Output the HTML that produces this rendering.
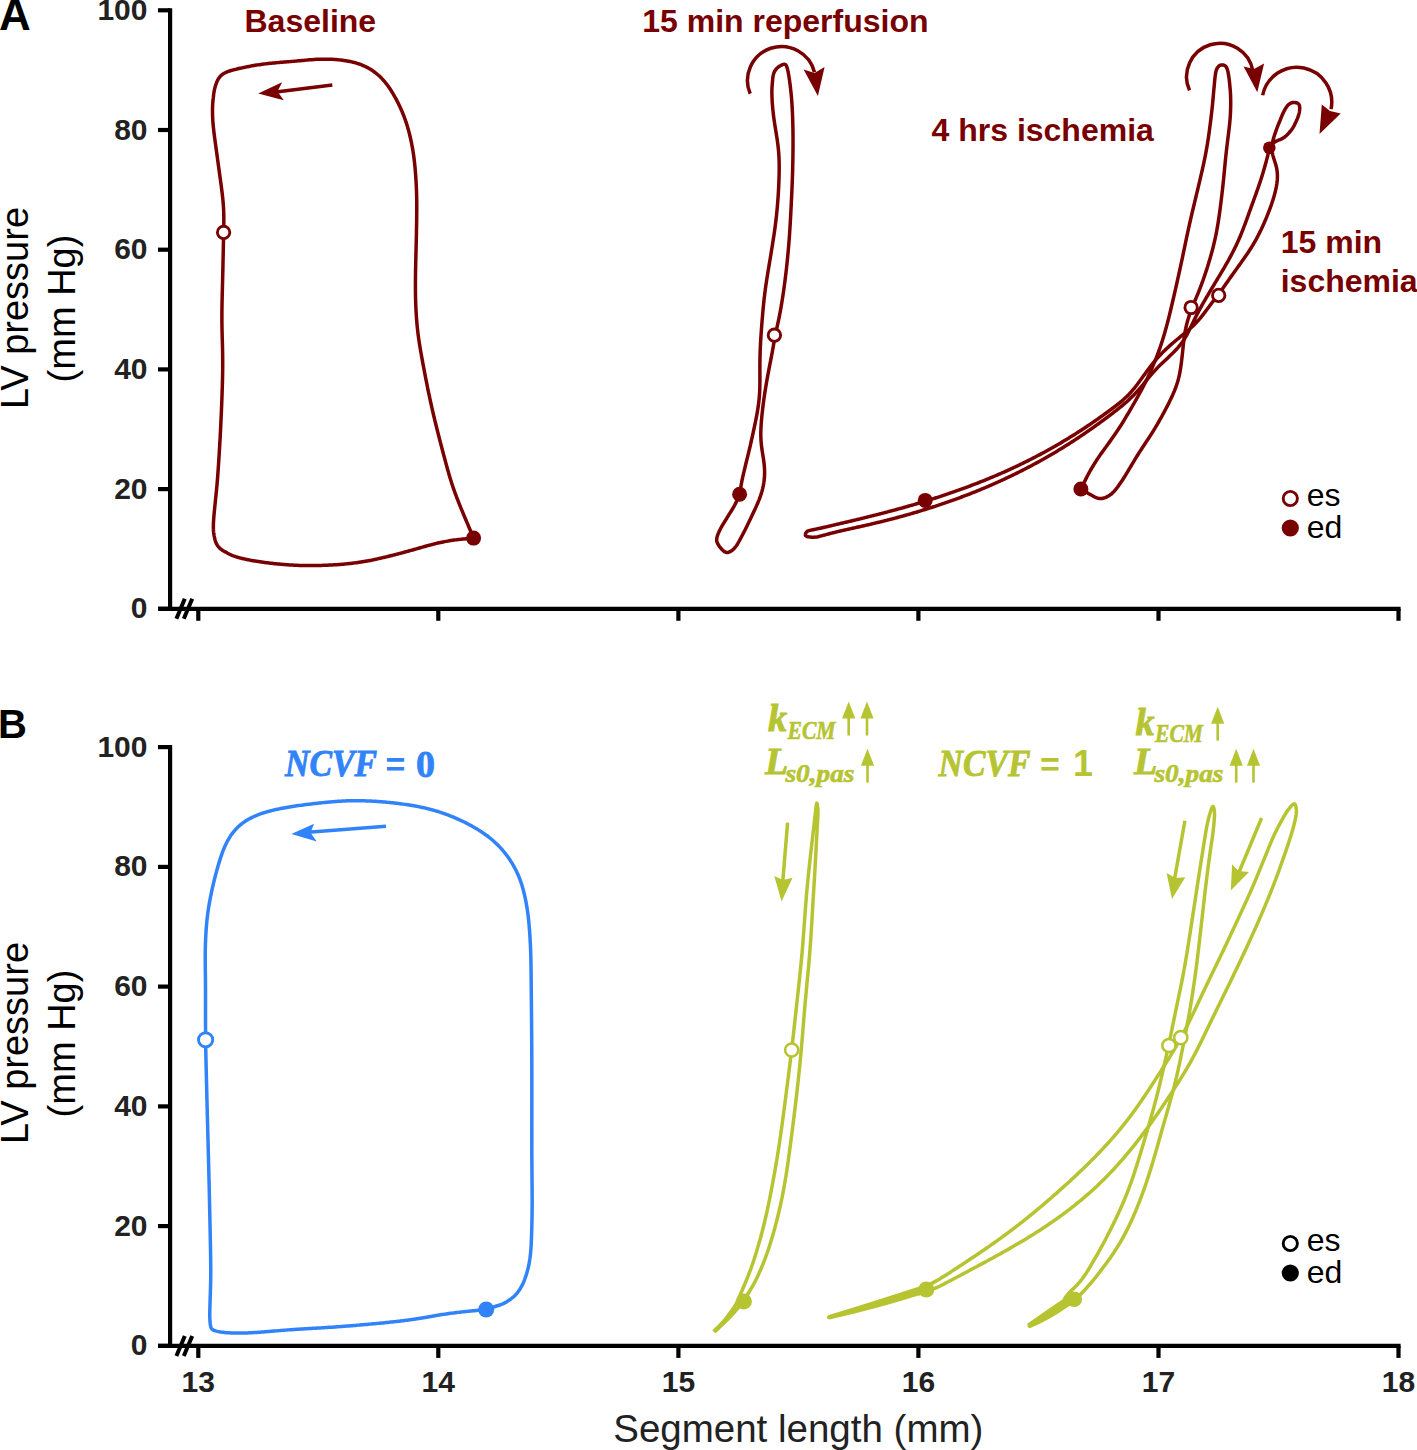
<!DOCTYPE html>
<html><head><meta charset="utf-8"><style>
html,body{margin:0;padding:0;background:#fff;}
svg{display:block;}
text{font-family:"Liberation Sans",sans-serif;}
.tl{font-size:30px;font-weight:bold;fill:#222;}
.yl{font-size:38px;fill:#000;}
.xl{font-size:38.5px;fill:#222;}
.pl{font-size:40px;font-weight:bold;fill:#000;}
.lab{font-size:32px;font-weight:bold;}
.leg{font-size:32px;fill:#000;}
.ncvf{font-family:"Liberation Serif",serif;font-size:38px;font-weight:bold;font-style:italic;}
.eq{font-family:"Liberation Serif",serif;font-size:36px;font-weight:bold;}
.zero{font-family:"Liberation Serif",serif;font-size:38px;font-weight:bold;}
.eq2{font-size:34px;font-weight:bold;}
.one{font-size:36px;font-weight:bold;}
.kk{font-family:"Liberation Serif",serif;font-size:38px;font-weight:bold;font-style:italic;}
.sub{font-family:"Liberation Serif",serif;font-size:25px;font-weight:bold;font-style:italic;}
</style></head><body>
<svg width="1417" height="1450" viewBox="0 0 1417 1450">
<line x1="170.1" y1="8.2" x2="170.1" y2="610.9" stroke="#000" stroke-width="4.2"/>
<line x1="158" y1="608.8" x2="170.1" y2="608.8" stroke="#000" stroke-width="4.2"/>
<text x="147.5" y="618.3" class="tl" text-anchor="end">0</text>
<line x1="158" y1="489.1" x2="170.1" y2="489.1" stroke="#000" stroke-width="4.2"/>
<text x="147.5" y="498.6" class="tl" text-anchor="end">20</text>
<line x1="158" y1="369.4" x2="170.1" y2="369.4" stroke="#000" stroke-width="4.2"/>
<text x="147.5" y="378.9" class="tl" text-anchor="end">40</text>
<line x1="158" y1="249.7" x2="170.1" y2="249.7" stroke="#000" stroke-width="4.2"/>
<text x="147.5" y="259.2" class="tl" text-anchor="end">60</text>
<line x1="158" y1="130.0" x2="170.1" y2="130.0" stroke="#000" stroke-width="4.2"/>
<text x="147.5" y="139.5" class="tl" text-anchor="end">80</text>
<line x1="158" y1="10.3" x2="170.1" y2="10.3" stroke="#000" stroke-width="4.2"/>
<text x="147.5" y="19.8" class="tl" text-anchor="end">100</text>
<line x1="158" y1="608.8" x2="1400.6" y2="608.8" stroke="#000" stroke-width="4.2"/>
<line x1="198.3" y1="608.8" x2="198.3" y2="620.8" stroke="#000" stroke-width="4.2"/>
<line x1="438.3" y1="608.8" x2="438.3" y2="620.8" stroke="#000" stroke-width="4.2"/>
<line x1="678.4" y1="608.8" x2="678.4" y2="620.8" stroke="#000" stroke-width="4.2"/>
<line x1="918.4" y1="608.8" x2="918.4" y2="620.8" stroke="#000" stroke-width="4.2"/>
<line x1="1158.5" y1="608.8" x2="1158.5" y2="620.8" stroke="#000" stroke-width="4.2"/>
<line x1="1398.5" y1="608.8" x2="1398.5" y2="620.8" stroke="#000" stroke-width="4.2"/>
<line x1="184.8" y1="598.8" x2="176.4" y2="618.8" stroke="#000" stroke-width="4"/>
<line x1="192.2" y1="598.8" x2="183.8" y2="618.8" stroke="#000" stroke-width="4"/>
<text class="yl" transform="translate(27.8 308.0) rotate(-90)" text-anchor="middle">LV pressure</text>
<text class="yl" transform="translate(74.8 308.5) rotate(-90)" text-anchor="middle">(mm Hg)</text>
<line x1="170.1" y1="745.0" x2="170.1" y2="1348.0" stroke="#000" stroke-width="4.2"/>
<line x1="158" y1="1345.9" x2="170.1" y2="1345.9" stroke="#000" stroke-width="4.2"/>
<text x="147.5" y="1355.4" class="tl" text-anchor="end">0</text>
<line x1="158" y1="1226.1" x2="170.1" y2="1226.1" stroke="#000" stroke-width="4.2"/>
<text x="147.5" y="1235.6" class="tl" text-anchor="end">20</text>
<line x1="158" y1="1106.4" x2="170.1" y2="1106.4" stroke="#000" stroke-width="4.2"/>
<text x="147.5" y="1115.9" class="tl" text-anchor="end">40</text>
<line x1="158" y1="986.6" x2="170.1" y2="986.6" stroke="#000" stroke-width="4.2"/>
<text x="147.5" y="996.1" class="tl" text-anchor="end">60</text>
<line x1="158" y1="866.9" x2="170.1" y2="866.9" stroke="#000" stroke-width="4.2"/>
<text x="147.5" y="876.4" class="tl" text-anchor="end">80</text>
<line x1="158" y1="747.1" x2="170.1" y2="747.1" stroke="#000" stroke-width="4.2"/>
<text x="147.5" y="756.6" class="tl" text-anchor="end">100</text>
<line x1="158" y1="1345.9" x2="1400.6" y2="1345.9" stroke="#000" stroke-width="4.2"/>
<line x1="198.3" y1="1345.9" x2="198.3" y2="1357.9" stroke="#000" stroke-width="4.2"/>
<line x1="438.3" y1="1345.9" x2="438.3" y2="1357.9" stroke="#000" stroke-width="4.2"/>
<line x1="678.4" y1="1345.9" x2="678.4" y2="1357.9" stroke="#000" stroke-width="4.2"/>
<line x1="918.4" y1="1345.9" x2="918.4" y2="1357.9" stroke="#000" stroke-width="4.2"/>
<line x1="1158.5" y1="1345.9" x2="1158.5" y2="1357.9" stroke="#000" stroke-width="4.2"/>
<line x1="1398.5" y1="1345.9" x2="1398.5" y2="1357.9" stroke="#000" stroke-width="4.2"/>
<line x1="184.8" y1="1335.9" x2="176.4" y2="1355.9" stroke="#000" stroke-width="4"/>
<line x1="192.2" y1="1335.9" x2="183.8" y2="1355.9" stroke="#000" stroke-width="4"/>
<text class="yl" transform="translate(27.8 1043.0) rotate(-90)" text-anchor="middle">LV pressure</text>
<text class="yl" transform="translate(74.8 1043.5) rotate(-90)" text-anchor="middle">(mm Hg)</text>
<text x="198.3" y="1392" class="tl" text-anchor="middle">13</text>
<text x="438.3" y="1392" class="tl" text-anchor="middle">14</text>
<text x="678.4" y="1392" class="tl" text-anchor="middle">15</text>
<text x="918.4" y="1392" class="tl" text-anchor="middle">16</text>
<text x="1158.5" y="1392" class="tl" text-anchor="middle">17</text>
<text x="1398.5" y="1392" class="tl" text-anchor="middle">18</text>
<text x="798.3" y="1441.6" class="xl" text-anchor="middle">Segment length (mm)</text>
<text x="-1" y="29.7" class="pl" style="font-size:44px">A</text>
<text x="-2" y="738.2" class="pl">B</text>
<path d="M473.60 538.10 L473.01 536.70 L472.41 535.27 L471.80 533.84 L471.18 532.39 L470.56 530.92 L469.93 529.45 L469.29 527.96 L468.65 526.46 L468.01 524.94 L467.36 523.41 L466.70 521.86 L466.04 520.31 L465.40 518.78 L464.76 517.27 L464.15 515.79 L463.55 514.36 L462.99 513.02 L462.44 511.69 L461.90 510.38 L461.36 509.07 L460.84 507.80 L460.33 506.56 L459.84 505.35 L459.37 504.18 L458.91 503.03 L458.29 501.47 L457.72 500.01 L457.18 498.62 L456.67 497.29 L456.18 495.99 L455.70 494.71 L455.23 493.44 L454.75 492.13 L454.28 490.79 L453.78 489.38 L453.26 487.89 L452.72 486.29 L452.34 485.15 L451.96 483.98 L451.57 482.79 L451.19 481.56 L450.79 480.29 L450.39 479.00 L449.99 477.67 L449.58 476.30 L449.17 474.90 L448.76 473.47 L448.34 472.00 L447.91 470.50 L447.49 468.98 L447.05 467.42 L446.62 465.84 L446.18 464.25 L445.75 462.64 L445.31 461.03 L444.88 459.42 L444.45 457.81 L444.03 456.21 L443.60 454.62 L443.19 453.05 L442.78 451.51 L442.38 449.98 L441.99 448.48 L441.61 447.05 L441.24 445.64 L440.87 444.23 L440.51 442.82 L440.14 441.40 L439.77 439.99 L439.41 438.57 L439.04 437.15 L438.68 435.71 L438.31 434.27 L437.94 432.83 L437.57 431.37 L437.21 429.92 L436.84 428.46 L436.47 426.99 L436.11 425.52 L435.74 424.05 L435.38 422.57 L435.02 421.10 L434.66 419.62 L434.31 418.15 L433.96 416.69 L433.61 415.22 L433.27 413.75 L432.92 412.28 L432.58 410.82 L432.25 409.36 L431.92 407.90 L431.59 406.44 L431.26 404.97 L430.93 403.49 L430.60 402.00 L430.27 400.50 L429.95 398.99 L429.62 397.47 L429.30 395.95 L428.98 394.43 L428.65 392.89 L428.34 391.36 L428.02 389.82 L427.71 388.29 L427.40 386.75 L427.09 385.22 L426.79 383.70 L426.49 382.19 L426.19 380.69 L425.90 379.20 L425.61 377.72 L425.32 376.25 L425.04 374.79 L424.77 373.35 L424.50 371.92 L424.23 370.51 L423.96 369.10 L423.70 367.70 L423.44 366.31 L423.18 364.93 L422.92 363.56 L422.63 361.97 L422.34 360.39 L422.05 358.83 L421.77 357.28 L421.49 355.74 L421.22 354.22 L420.95 352.71 L420.69 351.21 L420.43 349.73 L420.19 348.27 L419.94 346.83 L419.71 345.38 L419.48 343.95 L419.25 342.51 L419.04 341.08 L418.83 339.65 L418.62 338.22 L418.42 336.78 L418.23 335.33 L418.04 333.87 L417.86 332.39 L417.69 330.90 L417.52 329.38 L417.36 327.85 L417.20 326.31 L417.05 324.77 L416.91 323.22 L416.78 321.66 L416.66 320.10 L416.54 318.53 L416.43 316.98 L416.32 315.43 L416.22 313.89 L416.13 312.35 L416.05 310.81 L415.97 309.29 L415.90 307.78 L415.83 306.27 L415.77 304.78 L415.72 303.30 L415.67 301.83 L415.62 300.37 L415.58 298.86 L415.54 297.35 L415.51 295.86 L415.49 294.39 L415.47 292.94 L415.45 291.50 L415.44 290.06 L415.43 288.64 L415.42 287.20 L415.42 285.76 L415.43 284.30 L415.43 282.83 L415.44 281.34 L415.45 279.82 L415.47 278.27 L415.48 276.70 L415.50 275.10 L415.53 273.46 L415.55 272.01 L415.57 270.65 L415.60 269.28 L415.62 267.88 L415.65 266.48 L415.68 265.05 L415.71 263.61 L415.75 262.15 L415.78 260.67 L415.82 259.18 L415.85 257.66 L415.89 256.12 L415.93 254.57 L415.97 253.00 L416.01 251.42 L416.06 249.82 L416.10 248.22 L416.14 246.62 L416.18 245.02 L416.21 243.41 L416.25 241.81 L416.29 240.21 L416.32 238.62 L416.36 237.05 L416.39 235.49 L416.42 233.94 L416.45 232.40 L416.48 230.88 L416.50 229.38 L416.53 227.87 L416.56 226.37 L416.58 224.87 L416.60 223.37 L416.63 221.87 L416.65 220.37 L416.67 218.87 L416.69 217.36 L416.70 215.86 L416.72 214.35 L416.73 212.85 L416.74 211.35 L416.75 209.84 L416.76 208.33 L416.76 206.82 L416.76 205.31 L416.75 203.80 L416.74 202.29 L416.72 200.78 L416.70 199.27 L416.68 197.76 L416.64 196.25 L416.61 194.75 L416.57 193.24 L416.52 191.73 L416.47 190.23 L416.41 188.72 L416.35 187.22 L416.28 185.72 L416.21 184.22 L416.13 182.71 L416.04 181.20 L415.95 179.69 L415.86 178.17 L415.76 176.64 L415.65 175.12 L415.54 173.59 L415.42 172.07 L415.30 170.54 L415.16 169.02 L415.03 167.50 L414.88 165.98 L414.73 164.47 L414.57 162.97 L414.40 161.47 L414.22 159.98 L414.04 158.50 L413.85 157.02 L413.65 155.56 L413.44 154.10 L413.22 152.65 L412.99 151.21 L412.76 149.78 L412.51 148.35 L412.26 146.93 L411.99 145.48 L411.70 143.97 L411.39 142.47 L411.08 140.97 L410.76 139.48 L410.42 137.99 L410.08 136.51 L409.72 135.03 L409.36 133.57 L408.98 132.11 L408.60 130.66 L408.20 129.22 L407.79 127.79 L407.37 126.37 L406.94 124.96 L406.50 123.55 L406.04 122.15 L405.57 120.76 L405.09 119.37 L404.59 118.00 L404.08 116.62 L403.55 115.25 L403.01 113.88 L402.45 112.52 L401.88 111.15 L401.29 109.79 L400.68 108.43 L400.05 107.05 L399.39 105.64 L398.71 104.22 L398.00 102.79 L397.26 101.35 L396.50 99.90 L395.72 98.45 L394.92 96.99 L394.10 95.54 L393.26 94.11 L392.41 92.69 L391.54 91.29 L390.67 89.92 L389.79 88.59 L388.91 87.29 L388.02 86.04 L387.12 84.82 L386.23 83.64 L385.33 82.51 L384.43 81.42 L383.53 80.38 L382.62 79.37 L381.72 78.41 L380.81 77.48 L379.90 76.60 L378.75 75.53 L377.59 74.51 L376.42 73.54 L375.24 72.61 L374.04 71.72 L372.84 70.87 L371.62 70.06 L370.38 69.29 L369.13 68.55 L367.86 67.83 L366.56 67.15 L365.25 66.51 L363.90 65.89 L362.53 65.29 L361.13 64.73 L359.70 64.19 L358.37 63.73 L357.09 63.31 L355.77 62.91 L354.41 62.53 L353.02 62.18 L351.60 61.84 L350.14 61.52 L348.66 61.22 L347.14 60.94 L345.60 60.69 L344.03 60.45 L342.45 60.24 L340.84 60.04 L339.24 59.87 L337.64 59.72 L336.03 59.58 L334.44 59.47 L332.87 59.37 L331.31 59.29 L329.77 59.23 L328.26 59.18 L326.78 59.16 L325.33 59.14 L323.81 59.14 L322.30 59.16 L320.82 59.19 L319.36 59.23 L317.91 59.29 L316.47 59.36 L315.03 59.44 L313.60 59.53 L312.17 59.63 L310.72 59.74 L309.26 59.86 L307.79 59.99 L306.31 60.12 L304.81 60.26 L303.29 60.40 L301.75 60.54 L300.18 60.69 L298.60 60.84 L296.99 60.99 L295.46 61.13 L294.08 61.25 L292.69 61.37 L291.28 61.50 L289.84 61.62 L288.39 61.74 L286.92 61.86 L285.43 61.98 L283.92 62.10 L282.38 62.23 L280.83 62.36 L279.27 62.49 L277.70 62.62 L276.12 62.76 L274.54 62.90 L272.96 63.05 L271.38 63.20 L269.82 63.36 L268.27 63.53 L266.73 63.70 L265.22 63.87 L263.72 64.06 L262.25 64.25 L260.80 64.45 L259.37 64.65 L257.95 64.86 L256.54 65.08 L255.15 65.31 L253.78 65.54 L252.19 65.82 L250.56 66.12 L248.90 66.44 L247.22 66.79 L245.50 67.15 L243.78 67.49 L242.07 67.84 L240.36 68.20 L238.68 68.57 L237.05 68.95 L235.47 69.33 L233.95 69.72 L232.49 70.12 L231.07 70.54 L229.70 70.98 L228.39 71.44 L227.13 71.92 L225.94 72.44 L224.80 72.99 L223.73 73.58 L222.72 74.21 L221.80 74.90 L220.59 75.99 L219.56 77.16 L218.68 78.39 L217.93 79.64 L217.29 80.93 L216.70 82.30 L216.15 83.76 L215.64 85.28 L215.17 86.83 L214.76 88.39 L214.45 89.73 L214.20 90.97 L213.98 92.23 L213.78 93.54 L213.61 94.89 L213.46 96.29 L213.31 97.75 L213.12 99.24 L212.95 100.77 L212.81 102.35 L212.70 103.97 L212.62 105.63 L212.55 107.32 L212.52 109.04 L212.50 110.76 L212.51 112.50 L212.54 114.22 L212.57 115.52 L212.62 116.81 L212.68 118.13 L212.75 119.45 L212.84 120.79 L212.93 122.14 L213.04 123.50 L213.16 124.89 L213.30 126.30 L213.44 127.74 L213.60 129.20 L213.76 130.68 L213.94 132.19 L214.13 133.73 L214.32 135.29 L214.52 136.86 L214.73 138.45 L214.95 140.05 L215.16 141.67 L215.39 143.29 L215.61 144.91 L215.83 146.53 L216.06 148.14 L216.28 149.76 L216.50 151.35 L216.72 152.94 L216.93 154.51 L217.15 156.07 L217.36 157.61 L217.56 159.11 L217.76 160.55 L217.95 162.00 L218.16 163.48 L218.36 164.98 L218.57 166.50 L218.78 168.03 L218.99 169.59 L219.21 171.17 L219.43 172.77 L219.66 174.38 L219.88 176.01 L220.11 177.65 L220.34 179.29 L220.56 180.95 L220.79 182.59 L221.01 184.24 L221.23 185.88 L221.44 187.50 L221.65 189.10 L221.85 190.68 L222.04 192.25 L222.23 193.78 L222.40 195.28 L222.56 196.75 L222.72 198.18 L222.86 199.59 L222.99 200.96 L223.11 202.30 L223.22 203.62 L223.31 204.91 L223.40 206.18 L223.48 207.41 L223.55 208.63 L223.61 209.99 L223.68 211.69 L223.74 213.29 L223.77 214.84 L223.80 216.33 L223.81 217.78 L223.82 219.19 L223.82 220.58 L223.82 221.96 L223.80 223.35 L223.79 224.75 L223.76 226.17 L223.74 227.63 L223.71 229.14 L223.68 230.71 L223.64 232.35 L223.61 233.63 L223.59 234.93 L223.56 236.25 L223.53 237.60 L223.50 238.96 L223.47 240.35 L223.44 241.75 L223.41 243.18 L223.38 244.63 L223.35 246.11 L223.32 247.61 L223.29 249.13 L223.25 250.67 L223.22 252.24 L223.19 253.82 L223.16 255.42 L223.13 257.03 L223.09 258.66 L223.06 260.28 L223.02 261.90 L222.99 263.53 L222.96 265.15 L222.92 266.76 L222.89 268.35 L222.85 269.94 L222.82 271.51 L222.78 273.06 L222.75 274.51 L222.71 275.95 L222.68 277.40 L222.64 278.86 L222.60 280.31 L222.57 281.78 L222.53 283.25 L222.49 284.73 L222.45 286.21 L222.41 287.71 L222.38 289.20 L222.34 290.72 L222.30 292.23 L222.26 293.76 L222.22 295.28 L222.18 296.82 L222.15 298.35 L222.11 299.89 L222.08 301.43 L222.05 302.96 L222.02 304.50 L222.00 306.03 L221.97 307.55 L221.95 309.08 L221.93 310.60 L221.92 312.11 L221.91 313.63 L221.90 315.14 L221.90 316.64 L221.90 318.13 L221.90 319.62 L221.91 321.14 L221.92 322.64 L221.94 324.12 L221.96 325.60 L221.98 327.07 L222.01 328.53 L222.04 329.98 L222.07 331.42 L222.10 332.85 L222.14 334.28 L222.18 335.70 L222.21 337.13 L222.25 338.57 L222.30 340.00 L222.34 341.44 L222.38 342.89 L222.42 344.35 L222.46 345.82 L222.49 347.31 L222.53 348.82 L222.56 350.34 L222.59 351.88 L222.62 353.45 L222.64 355.03 L222.66 356.62 L222.68 358.23 L222.69 359.84 L222.70 361.46 L222.70 363.09 L222.70 364.55 L222.70 365.92 L222.69 367.29 L222.68 368.66 L222.67 370.05 L222.65 371.45 L222.63 372.86 L222.60 374.28 L222.58 375.71 L222.55 377.17 L222.52 378.63 L222.48 380.12 L222.45 381.62 L222.41 383.13 L222.36 384.66 L222.32 386.20 L222.27 387.75 L222.22 389.31 L222.17 390.87 L222.12 392.44 L222.07 394.02 L222.01 395.60 L221.96 397.19 L221.90 398.77 L221.84 400.34 L221.78 401.92 L221.72 403.50 L221.65 405.06 L221.59 406.62 L221.53 408.18 L221.46 409.72 L221.40 411.26 L221.33 412.78 L221.26 414.29 L221.20 415.79 L221.13 417.28 L221.07 418.76 L221.00 420.23 L220.93 421.69 L220.86 423.14 L220.80 424.58 L220.73 426.02 L220.65 427.49 L220.58 429.05 L220.50 430.61 L220.42 432.16 L220.34 433.72 L220.26 435.27 L220.18 436.82 L220.09 438.36 L220.01 439.89 L219.93 441.42 L219.84 442.94 L219.75 444.45 L219.67 445.96 L219.58 447.46 L219.49 448.95 L219.40 450.43 L219.31 451.91 L219.22 453.39 L219.13 454.86 L219.04 456.33 L218.95 457.79 L218.85 459.25 L218.76 460.72 L218.67 462.18 L218.57 463.62 L218.48 465.08 L218.38 466.54 L218.28 467.98 L218.18 469.44 L218.08 470.89 L217.98 472.35 L217.88 473.80 L217.77 475.26 L217.66 476.72 L217.55 478.19 L217.43 479.66 L217.31 481.15 L217.18 482.67 L217.05 484.22 L216.91 485.80 L216.76 487.41 L216.60 489.04 L216.44 490.68 L216.28 492.35 L216.11 494.04 L215.93 495.74 L215.75 497.44 L215.57 499.17 L215.39 500.89 L215.22 502.62 L215.04 504.35 L214.87 506.05 L214.71 507.74 L214.55 509.39 L214.39 510.99 L214.24 512.56 L214.09 514.11 L213.96 515.62 L213.83 517.11 L213.72 518.56 L213.62 520.00 L213.53 521.39 L213.46 522.77 L213.41 524.10 L213.38 525.41 L213.36 526.68 L213.37 527.92 L213.40 529.13 L213.46 530.30 L213.54 531.44 L213.65 532.54 L213.87 534.14 L214.17 535.96 L214.51 537.72 L214.92 539.42 L215.40 541.04 L215.95 542.55 L216.58 543.93 L217.27 545.15 L218.02 546.24 L218.81 547.21 L219.67 548.10 L220.60 548.90 L221.69 549.73 L222.82 550.48 L224.01 551.18 L225.24 551.84 L226.49 552.51 L227.74 553.24 L229.08 553.96 L230.51 554.65 L232.03 555.31 L233.28 555.80 L234.40 556.21 L235.57 556.62 L236.79 557.01 L238.06 557.39 L239.37 557.76 L240.73 558.12 L242.14 558.47 L243.60 558.82 L245.10 559.15 L246.65 559.48 L248.25 559.80 L249.88 560.11 L251.54 560.41 L253.23 560.71 L254.93 561.00 L256.64 561.28 L258.34 561.54 L260.03 561.80 L261.70 562.04 L263.34 562.28 L264.89 562.49 L266.28 562.67 L267.67 562.85 L269.06 563.02 L270.45 563.19 L271.84 563.35 L273.24 563.51 L274.65 563.66 L276.06 563.81 L277.50 563.96 L278.94 564.10 L280.41 564.23 L281.89 564.36 L283.38 564.49 L284.89 564.60 L286.42 564.72 L287.96 564.83 L289.53 564.93 L291.09 565.02 L292.68 565.11 L294.27 565.19 L295.88 565.27 L297.48 565.33 L299.08 565.39 L300.69 565.44 L302.30 565.48 L303.89 565.52 L305.48 565.54 L307.01 565.56 L308.43 565.57 L309.85 565.58 L311.27 565.58 L312.70 565.57 L314.15 565.56 L315.61 565.54 L317.07 565.52 L318.56 565.49 L320.04 565.45 L321.55 565.41 L323.07 565.36 L324.60 565.30 L326.15 565.24 L327.70 565.17 L329.26 565.10 L330.83 565.02 L332.40 564.93 L333.96 564.84 L335.53 564.74 L337.10 564.63 L338.65 564.52 L340.20 564.41 L341.75 564.28 L343.28 564.15 L344.80 564.01 L346.30 563.87 L347.80 563.72 L349.28 563.57 L350.74 563.41 L352.20 563.24 L353.65 563.06 L355.07 562.88 L356.50 562.69 L357.91 562.50 L359.32 562.29 L360.88 562.06 L362.43 561.81 L363.97 561.56 L365.51 561.30 L367.05 561.02 L368.57 560.74 L370.09 560.45 L371.60 560.16 L373.10 559.85 L374.59 559.54 L376.06 559.23 L377.53 558.91 L378.99 558.58 L380.44 558.25 L381.89 557.91 L383.33 557.57 L384.76 557.23 L386.20 556.88 L387.63 556.53 L389.05 556.18 L390.48 555.82 L391.91 555.46 L393.34 555.10 L394.78 554.73 L396.22 554.36 L397.66 553.99 L399.10 553.61 L400.56 553.23 L402.02 552.84 L403.48 552.45 L404.97 552.05 L406.46 551.64 L407.96 551.23 L409.47 550.81 L410.99 550.38 L412.53 549.95 L414.06 549.52 L415.60 549.08 L417.14 548.64 L418.68 548.20 L420.22 547.76 L421.75 547.32 L423.28 546.88 L424.79 546.46 L426.30 546.04 L427.79 545.62 L429.27 545.22 L430.73 544.83 L432.17 544.45 L433.60 544.09 L435.01 543.74 L436.41 543.40 L437.80 543.08 L439.17 542.77 L440.53 542.47 L441.89 542.19 L443.23 541.92 L444.65 541.65 L446.22 541.37 L447.76 541.10 L449.29 540.84 L450.86 540.57 L452.41 540.32 L453.96 540.09 L455.49 539.88 L456.98 539.69 L458.45 539.52 L459.90 539.37 L461.34 539.23 L462.78 539.10 L464.23 538.97 L465.69 538.84 L467.16 538.72 L468.63 538.59 L470.11 538.45 L471.61 538.31 L473.10 538.16 L473.60 538.10" fill="none" stroke="#780000" stroke-width="3.5" stroke-linejoin="round" stroke-linecap="butt"/>
<line x1="332.3" y1="84.9" x2="272" y2="92.5" stroke="#780000" stroke-width="3.5"/>
<path d="M258.2 93.6 L282.1 82.3 L277.5 91.6 L283.8 100.3 Z" fill="#780000"/>
<circle cx="223.6" cy="232.4" r="6.2" fill="#fff" stroke="#780000" stroke-width="2.85"/>
<circle cx="473.6" cy="538.1" r="7.5" fill="#780000"/>
<path d="M739.60 494.20 L739.86 492.70 L740.11 491.19 L740.36 489.70 L740.61 488.21 L740.85 486.73 L741.11 485.26 L741.37 483.76 L741.66 482.24 L741.96 480.68 L742.28 479.12 L742.62 477.56 L742.96 476.00 L743.28 474.61 L743.61 473.22 L743.94 471.82 L744.28 470.41 L744.62 469.01 L744.95 467.61 L745.30 466.19 L745.65 464.73 L746.01 463.24 L746.38 461.73 L746.76 460.19 L747.15 458.62 L747.53 457.04 L747.92 455.44 L748.32 453.81 L748.64 452.47 L748.97 451.09 L749.31 449.69 L749.64 448.25 L749.99 446.79 L750.33 445.30 L750.68 443.79 L751.03 442.25 L751.39 440.69 L751.74 439.12 L752.09 437.54 L752.45 435.95 L752.79 434.37 L753.14 432.78 L753.48 431.22 L753.81 429.68 L754.13 428.16 L754.45 426.67 L754.75 425.20 L755.05 423.76 L755.33 422.36 L755.61 421.00 L755.89 419.57 L756.20 418.01 L756.49 416.50 L756.76 415.04 L757.02 413.61 L757.27 412.20 L757.51 410.81 L757.74 409.43 L757.96 408.03 L758.17 406.62 L758.37 405.19 L758.57 403.72 L758.76 402.20 L758.94 400.64 L759.11 399.02 L759.25 397.48 L759.36 396.21 L759.45 394.92 L759.54 393.60 L759.62 392.24 L759.69 390.87 L759.74 389.46 L759.79 388.02 L759.83 386.55 L759.86 385.04 L759.88 383.51 L759.90 381.96 L759.91 380.37 L759.91 378.76 L759.91 377.14 L759.91 375.50 L759.90 373.86 L759.90 372.22 L759.89 370.57 L759.89 368.94 L759.89 367.32 L759.89 365.72 L759.90 364.13 L759.91 362.57 L759.93 361.02 L759.95 359.49 L759.98 357.99 L760.01 356.51 L760.05 355.05 L760.10 353.49 L760.15 351.93 L760.21 350.37 L760.27 348.80 L760.34 347.24 L760.42 345.67 L760.50 344.10 L760.58 342.53 L760.67 340.97 L760.76 339.42 L760.86 337.87 L760.96 336.34 L761.06 334.81 L761.16 333.30 L761.26 331.80 L761.37 330.31 L761.47 328.84 L761.58 327.38 L761.69 325.92 L761.80 324.48 L761.92 323.06 L762.03 321.63 L762.14 320.22 L762.26 318.81 L762.38 317.35 L762.51 315.78 L762.65 314.23 L762.78 312.71 L762.91 311.21 L763.05 309.72 L763.19 308.25 L763.33 306.79 L763.47 305.34 L763.61 303.90 L763.76 302.46 L763.91 301.03 L764.07 299.58 L764.23 298.13 L764.40 296.66 L764.58 295.18 L764.76 293.68 L764.95 292.16 L765.15 290.62 L765.35 289.16 L765.54 287.73 L765.74 286.30 L765.95 284.85 L766.17 283.39 L766.39 281.92 L766.61 280.44 L766.84 278.95 L767.08 277.44 L767.32 275.93 L767.57 274.41 L767.82 272.88 L768.07 271.34 L768.33 269.79 L768.59 268.24 L768.84 266.69 L769.10 265.14 L769.36 263.59 L769.62 262.04 L769.87 260.50 L770.13 258.97 L770.38 257.44 L770.63 255.92 L770.88 254.42 L771.12 252.94 L771.36 251.46 L771.60 249.98 L771.84 248.50 L772.08 247.02 L772.32 245.54 L772.55 244.06 L772.79 242.57 L773.02 241.09 L773.25 239.61 L773.48 238.12 L773.71 236.63 L773.93 235.14 L774.16 233.65 L774.37 232.16 L774.59 230.66 L774.80 229.17 L775.00 227.68 L775.20 226.19 L775.40 224.70 L775.59 223.21 L775.77 221.71 L775.95 220.22 L776.13 218.72 L776.30 217.21 L776.47 215.69 L776.63 214.17 L776.78 212.65 L776.93 211.12 L777.08 209.58 L777.22 208.05 L777.36 206.52 L777.49 204.98 L777.61 203.45 L777.73 201.92 L777.85 200.39 L777.96 198.87 L778.07 197.35 L778.17 195.83 L778.26 194.32 L778.35 192.82 L778.44 191.32 L778.52 189.82 L778.60 188.33 L778.67 186.84 L778.74 185.36 L778.80 183.88 L778.87 182.36 L778.92 180.82 L778.98 179.28 L779.03 177.75 L779.07 176.23 L779.11 174.71 L779.14 173.19 L779.16 171.68 L779.18 170.18 L779.19 168.68 L779.20 167.18 L779.19 165.69 L779.18 164.19 L779.15 162.70 L779.12 161.22 L779.07 159.73 L779.01 158.23 L778.94 156.74 L778.85 155.24 L778.76 153.73 L778.64 152.21 L778.52 150.71 L778.38 149.24 L778.23 147.74 L778.06 146.23 L777.88 144.71 L777.68 143.18 L777.47 141.63 L777.25 140.08 L777.02 138.52 L776.78 136.97 L776.54 135.41 L776.29 133.87 L776.04 132.33 L775.79 130.80 L775.55 129.29 L775.31 127.79 L775.07 126.32 L774.84 124.87 L774.62 123.44 L774.41 122.02 L774.21 120.63 L774.01 119.25 L773.83 117.89 L773.64 116.46 L773.44 114.84 L773.25 113.26 L773.08 111.70 L772.92 110.17 L772.77 108.66 L772.63 107.16 L772.50 105.69 L772.39 104.24 L772.29 102.79 L772.19 101.35 L772.11 99.91 L772.04 98.47 L771.98 97.01 L771.94 95.55 L771.90 94.05 L771.89 92.48 L771.89 90.82 L771.93 89.14 L772.00 87.42 L772.11 85.71 L772.28 84.02 L772.43 82.35 L772.54 80.69 L772.68 79.11 L772.84 77.62 L773.05 76.25 L773.30 75.00 L773.60 73.85 L773.95 72.80 L774.42 71.70 L775.20 70.31 L776.35 68.83 L777.84 67.39 L779.39 66.26 L780.85 65.41 L782.18 64.79 L783.31 64.38 L784.20 64.20 L785.60 64.64 L786.26 65.49 L786.60 66.23 L786.94 67.17 L787.27 68.27 L787.59 69.54 L787.91 70.95 L788.22 72.50 L788.53 74.18 L788.84 76.02 L789.16 78.01 L789.47 80.10 L789.76 82.15 L790.03 84.10 L790.25 85.92 L790.43 87.50 L790.58 88.83 L790.72 90.15 L790.88 91.50 L791.03 92.86 L791.17 94.21 L791.30 95.58 L791.43 96.96 L791.55 98.36 L791.66 99.78 L791.77 101.22 L791.87 102.69 L791.97 104.19 L792.06 105.72 L792.15 107.28 L792.24 108.86 L792.32 110.46 L792.40 112.07 L792.47 113.69 L792.53 115.31 L792.60 116.93 L792.66 118.56 L792.71 120.16 L792.75 121.64 L792.79 123.05 L792.83 124.48 L792.86 125.92 L792.89 127.36 L792.92 128.83 L792.95 130.30 L792.97 131.80 L792.98 133.30 L793.00 134.83 L793.01 136.37 L793.02 137.92 L793.02 139.49 L793.03 141.06 L793.03 142.64 L793.02 144.23 L793.02 145.80 L793.01 147.38 L793.00 148.95 L792.99 150.51 L792.97 152.06 L792.95 153.61 L792.94 155.14 L792.91 156.65 L792.89 158.16 L792.87 159.64 L792.84 161.12 L792.81 162.57 L792.78 164.02 L792.75 165.44 L792.72 167.04 L792.68 168.61 L792.64 170.16 L792.60 171.70 L792.55 173.22 L792.51 174.73 L792.46 176.24 L792.41 177.73 L792.36 179.20 L792.30 180.67 L792.25 182.14 L792.19 183.60 L792.13 185.06 L792.07 186.53 L792.01 188.00 L791.94 189.49 L791.88 190.98 L791.81 192.50 L791.74 194.02 L791.67 195.55 L791.59 197.10 L791.52 198.67 L791.44 200.25 L791.37 201.79 L791.30 203.22 L791.23 204.66 L791.16 206.10 L791.08 207.56 L791.01 209.01 L790.93 210.48 L790.86 211.96 L790.78 213.45 L790.70 214.95 L790.62 216.45 L790.54 217.97 L790.45 219.49 L790.37 221.03 L790.28 222.56 L790.19 224.11 L790.09 225.66 L790.00 227.21 L789.90 228.76 L789.80 230.32 L789.70 231.88 L789.60 233.43 L789.49 234.97 L789.38 236.51 L789.27 238.04 L789.16 239.58 L789.04 241.10 L788.92 242.62 L788.80 244.13 L788.68 245.63 L788.55 247.13 L788.42 248.63 L788.29 250.14 L788.15 251.65 L788.01 253.17 L787.87 254.68 L787.73 256.20 L787.58 257.72 L787.43 259.25 L787.27 260.78 L787.12 262.29 L786.96 263.82 L786.80 265.34 L786.63 266.86 L786.47 268.37 L786.30 269.88 L786.13 271.38 L785.95 272.87 L785.78 274.34 L785.60 275.81 L785.42 277.27 L785.24 278.71 L785.06 280.15 L784.88 281.57 L784.69 282.98 L784.51 284.40 L784.31 285.81 L784.12 287.22 L783.92 288.64 L783.72 290.09 L783.49 291.68 L783.25 293.31 L783.00 294.99 L782.73 296.71 L782.46 298.48 L782.18 300.26 L781.89 302.06 L781.59 303.86 L781.29 305.66 L780.99 307.44 L780.68 309.19 L780.38 310.89 L780.07 312.54 L779.77 314.15 L779.47 315.68 L779.18 317.16 L778.89 318.57 L778.61 319.93 L778.33 321.23 L778.06 322.46 L777.80 323.64 L777.55 324.77 L777.32 325.83 L777.10 326.83 L776.81 328.11 L776.42 329.91 L776.08 331.49 L775.78 332.91 L775.51 334.22 L775.26 335.49 L775.00 336.84 L774.77 338.05 L774.49 339.53 L774.29 340.65 L774.14 341.47 L773.98 342.38 L773.81 343.36 L773.62 344.43 L773.42 345.59 L773.21 346.83 L772.97 348.15 L772.72 349.55 L772.45 351.05 L772.16 352.63 L771.85 354.29 L771.52 356.03 L771.18 357.83 L770.82 359.67 L770.45 361.56 L770.08 363.45 L769.72 365.34 L769.35 367.20 L769.00 369.02 L768.66 370.80 L768.33 372.54 L768.02 374.20 L767.72 375.81 L767.44 377.34 L767.17 378.80 L766.92 380.26 L766.65 381.79 L766.39 383.29 L766.13 384.79 L765.89 386.27 L765.64 387.74 L765.41 389.21 L765.17 390.67 L764.95 392.11 L764.72 393.55 L764.51 394.99 L764.29 396.43 L764.09 397.86 L763.88 399.29 L763.68 400.73 L763.49 402.16 L763.30 403.60 L763.11 405.04 L762.93 406.49 L762.76 407.95 L762.59 409.41 L762.42 410.89 L762.25 412.40 L762.09 413.92 L761.93 415.46 L761.78 417.01 L761.64 418.57 L761.50 420.13 L761.37 421.71 L761.25 423.27 L761.15 424.83 L761.05 426.38 L760.97 427.93 L760.91 429.45 L760.86 430.97 L760.83 432.47 L760.81 433.95 L760.82 435.42 L760.85 436.87 L760.90 438.31 L760.97 439.72 L761.06 441.13 L761.17 442.52 L761.32 444.08 L761.48 445.63 L761.67 447.18 L761.88 448.72 L762.10 450.24 L762.33 451.76 L762.57 453.27 L762.81 454.77 L763.05 456.25 L763.28 457.72 L763.50 459.18 L763.71 460.63 L763.90 462.07 L764.07 463.50 L764.22 464.93 L764.34 466.36 L764.45 467.85 L764.53 469.36 L764.57 470.85 L764.59 472.34 L764.57 473.83 L764.53 475.32 L764.45 476.81 L764.34 478.29 L764.19 479.80 L764.01 481.30 L763.80 482.82 L763.55 484.34 L763.27 485.88 L762.94 487.42 L762.58 488.97 L762.25 490.26 L761.90 491.56 L761.51 492.87 L761.10 494.18 L760.65 495.51 L760.18 496.85 L759.68 498.21 L759.16 499.58 L758.60 500.96 L758.03 502.35 L757.43 503.76 L756.81 505.17 L756.18 506.59 L755.54 508.00 L754.89 509.41 L754.23 510.82 L753.57 512.22 L752.91 513.62 L752.25 515.00 L751.59 516.39 L750.93 517.77 L750.28 519.13 L749.61 520.55 L748.91 522.01 L748.18 523.52 L747.44 525.08 L746.67 526.68 L745.88 528.29 L745.07 529.94 L744.25 531.56 L743.41 533.17 L742.57 534.75 L741.75 536.26 L741.00 537.75 L740.25 539.18 L739.53 540.51 L738.83 541.77 L738.15 542.95 L737.50 544.02 L736.86 545.02 L736.23 545.93 L735.61 546.76 L735.01 547.52 L734.39 548.22 L733.06 549.51 L731.48 550.76 L730.02 551.67 L728.74 552.22 L727.43 552.49 L726.10 552.40 L725.01 551.97 L723.88 551.24 L722.71 550.25 L721.54 549.01 L720.35 547.54 L719.14 546.04 L718.17 544.57 L717.43 543.13 L716.91 541.75 L716.67 540.41 L716.68 539.06 L716.89 537.71 L717.24 536.35 L717.72 534.95 L718.31 533.44 L718.99 531.85 L719.73 530.26 L720.48 528.75 L721.15 527.52 L721.79 526.38 L722.50 525.18 L723.26 523.93 L724.07 522.63 L724.90 521.29 L725.76 519.92 L726.59 518.56 L727.40 517.20 L728.23 515.82 L729.09 514.43 L729.94 513.07 L730.78 511.75 L731.58 510.47 L732.34 509.25 L733.04 508.09 L733.82 506.74 L734.60 505.31 L735.34 503.87 L736.03 502.44 L736.67 501.06 L737.25 499.71 L737.82 498.36 L738.40 496.99 L738.99 495.60 L739.60 494.20 L739.60 494.20" fill="none" stroke="#780000" stroke-width="3.5" stroke-linejoin="round" stroke-linecap="butt"/>
<circle cx="774.4" cy="335.2" r="6.2" fill="#fff" stroke="#780000" stroke-width="2.85"/>
<circle cx="739.6" cy="494.2" r="7.5" fill="#780000"/>
<path d="M750.20 93.78 A34.00 34.00 0 1 1 814.49 72.27" fill="none" stroke="#780000" stroke-width="3.5"/>
<path d="M817.9 95.9 L803.6 69.6 L814.5 73.0 L824.6 66.9 Z" fill="#780000"/>
<path d="M1080.90 489.00 L1081.59 487.66 L1082.26 486.31 L1082.92 484.98 L1083.58 483.64 L1084.23 482.31 L1084.87 481.00 L1085.51 479.69 L1086.15 478.39 L1086.80 477.10 L1087.47 475.80 L1088.17 474.47 L1088.89 473.13 L1089.65 471.76 L1090.43 470.37 L1091.23 469.00 L1092.06 467.62 L1092.88 466.26 L1093.69 464.90 L1094.48 463.61 L1095.19 462.49 L1095.91 461.34 L1096.65 460.18 L1097.41 459.02 L1098.19 457.86 L1098.98 456.69 L1099.79 455.51 L1100.62 454.32 L1101.47 453.12 L1102.33 451.90 L1103.21 450.68 L1104.10 449.44 L1105.00 448.20 L1105.92 446.94 L1106.83 445.68 L1107.76 444.42 L1108.68 443.14 L1109.61 441.87 L1110.53 440.60 L1111.44 439.33 L1112.34 438.06 L1113.23 436.81 L1114.11 435.55 L1114.98 434.30 L1115.84 433.05 L1116.68 431.81 L1117.51 430.57 L1118.33 429.34 L1119.16 428.07 L1120.00 426.78 L1120.84 425.46 L1121.70 424.10 L1122.56 422.72 L1123.43 421.31 L1124.32 419.87 L1125.20 418.41 L1126.08 416.94 L1126.96 415.47 L1127.84 413.99 L1128.70 412.52 L1129.56 411.04 L1130.41 409.59 L1131.24 408.16 L1132.04 406.75 L1132.83 405.39 L1133.59 404.05 L1134.33 402.75 L1135.04 401.49 L1135.73 400.27 L1136.40 399.08 L1137.04 397.94 L1137.66 396.82 L1138.26 395.74 L1138.84 394.70 L1139.40 393.70 L1139.93 392.73 L1140.76 391.20 L1141.53 389.79 L1142.24 388.46 L1142.91 387.19 L1143.55 385.96 L1144.18 384.75 L1144.81 383.51 L1145.45 382.25 L1146.12 380.90 L1146.82 379.45 L1147.45 378.14 L1148.11 376.75 L1148.78 375.31 L1149.47 373.81 L1150.16 372.28 L1150.84 370.73 L1151.53 369.16 L1152.20 367.61 L1152.85 366.09 L1153.47 364.61 L1154.07 363.18 L1154.62 361.83 L1155.15 360.54 L1155.64 359.33 L1156.25 357.80 L1156.79 356.43 L1157.28 355.16 L1157.75 353.92 L1158.23 352.65 L1158.75 351.27 L1159.31 349.70 L1159.70 348.61 L1160.11 347.44 L1160.54 346.21 L1160.97 344.92 L1161.42 343.56 L1161.87 342.16 L1162.34 340.70 L1162.81 339.19 L1163.29 337.63 L1163.77 336.04 L1164.24 334.43 L1164.71 332.80 L1165.18 331.17 L1165.64 329.56 L1166.08 327.96 L1166.51 326.39 L1166.92 324.85 L1167.31 323.40 L1167.69 321.95 L1168.06 320.50 L1168.44 319.04 L1168.80 317.59 L1169.17 316.12 L1169.53 314.65 L1169.89 313.18 L1170.25 311.71 L1170.61 310.22 L1170.96 308.73 L1171.32 307.24 L1171.67 305.74 L1172.02 304.23 L1172.37 302.73 L1172.72 301.23 L1173.07 299.74 L1173.41 298.25 L1173.75 296.80 L1174.07 295.38 L1174.40 293.98 L1174.71 292.59 L1175.03 291.22 L1175.34 289.84 L1175.65 288.47 L1175.97 287.10 L1176.28 285.72 L1176.60 284.32 L1176.92 282.90 L1177.24 281.45 L1177.57 279.98 L1177.90 278.49 L1178.24 276.96 L1178.58 275.41 L1178.93 273.83 L1179.28 272.22 L1179.64 270.58 L1179.94 269.19 L1180.23 267.88 L1180.51 266.55 L1180.80 265.20 L1181.10 263.82 L1181.40 262.42 L1181.70 260.99 L1182.01 259.53 L1182.32 258.04 L1182.64 256.52 L1182.96 254.98 L1183.29 253.40 L1183.63 251.81 L1183.97 250.19 L1184.31 248.56 L1184.65 246.92 L1184.99 245.28 L1185.33 243.64 L1185.68 242.00 L1186.02 240.38 L1186.35 238.78 L1186.69 237.19 L1187.02 235.64 L1187.34 234.11 L1187.66 232.61 L1187.98 231.13 L1188.30 229.69 L1188.60 228.28 L1188.91 226.89 L1189.21 225.53 L1189.51 224.20 L1189.80 222.90 L1190.08 221.63 L1190.46 219.98 L1190.82 218.40 L1191.18 216.85 L1191.53 215.34 L1191.87 213.88 L1192.21 212.44 L1192.55 211.02 L1192.88 209.62 L1193.21 208.24 L1193.54 206.87 L1193.87 205.48 L1194.20 204.09 L1194.54 202.68 L1194.88 201.25 L1195.23 199.79 L1195.59 198.28 L1195.96 196.75 L1196.33 195.18 L1196.69 193.66 L1197.00 192.37 L1197.32 191.05 L1197.64 189.72 L1197.95 188.38 L1198.28 187.01 L1198.61 185.63 L1198.94 184.23 L1199.27 182.81 L1199.61 181.37 L1199.96 179.92 L1200.30 178.45 L1200.65 176.95 L1201.00 175.44 L1201.35 173.92 L1201.71 172.38 L1202.06 170.83 L1202.41 169.28 L1202.76 167.72 L1203.10 166.16 L1203.44 164.60 L1203.78 163.03 L1204.11 161.48 L1204.43 159.93 L1204.75 158.39 L1205.05 156.86 L1205.35 155.35 L1205.64 153.84 L1205.92 152.35 L1206.20 150.87 L1206.46 149.40 L1206.72 147.92 L1206.98 146.44 L1207.23 144.96 L1207.47 143.48 L1207.71 141.99 L1207.94 140.50 L1208.17 139.00 L1208.40 137.49 L1208.62 135.98 L1208.84 134.48 L1209.05 132.98 L1209.26 131.47 L1209.46 129.96 L1209.66 128.47 L1209.86 126.97 L1210.06 125.47 L1210.25 124.00 L1210.43 122.52 L1210.62 121.07 L1210.80 119.62 L1210.97 118.18 L1211.14 116.76 L1211.31 115.35 L1211.48 113.94 L1211.64 112.54 L1211.80 111.15 L1211.95 109.76 L1212.10 108.37 L1212.25 106.96 L1212.41 105.46 L1212.57 103.83 L1212.73 102.13 L1212.90 100.36 L1213.06 98.50 L1213.23 96.59 L1213.40 94.64 L1213.57 92.66 L1213.75 90.67 L1213.94 88.70 L1214.13 86.76 L1214.31 84.90 L1214.46 83.11 L1214.61 81.41 L1214.76 79.80 L1214.92 78.28 L1215.08 76.85 L1215.25 75.50 L1215.44 74.26 L1215.63 73.10 L1215.84 72.05 L1216.06 71.11 L1216.30 70.26 L1216.54 69.51 L1216.82 68.84 L1217.35 67.86 L1218.82 66.11 L1220.17 65.27 L1221.60 64.90 L1223.16 64.93 L1224.80 65.58 L1226.12 66.82 L1226.56 67.52 L1226.96 68.36 L1227.32 69.37 L1227.67 70.56 L1227.99 71.95 L1228.30 73.56 L1228.61 75.36 L1228.90 77.25 L1229.16 79.14 L1229.38 80.98 L1229.56 82.73 L1229.70 84.16 L1229.81 85.46 L1229.94 86.79 L1230.08 88.15 L1230.20 89.54 L1230.31 90.96 L1230.41 92.41 L1230.49 93.88 L1230.55 95.38 L1230.61 96.92 L1230.65 98.49 L1230.68 100.09 L1230.70 101.71 L1230.70 103.35 L1230.69 105.00 L1230.67 106.64 L1230.63 108.29 L1230.58 109.93 L1230.52 111.56 L1230.45 113.16 L1230.37 114.65 L1230.28 116.08 L1230.18 117.50 L1230.08 118.92 L1229.96 120.34 L1229.83 121.76 L1229.70 123.19 L1229.55 124.62 L1229.40 126.06 L1229.24 127.52 L1229.07 128.99 L1228.90 130.46 L1228.72 131.96 L1228.53 133.47 L1228.34 134.99 L1228.15 136.53 L1227.95 138.08 L1227.76 139.63 L1227.56 141.20 L1227.36 142.76 L1227.17 144.34 L1226.98 145.92 L1226.79 147.49 L1226.61 149.06 L1226.44 150.58 L1226.28 152.02 L1226.12 153.45 L1225.97 154.89 L1225.81 156.34 L1225.66 157.79 L1225.52 159.25 L1225.37 160.71 L1225.22 162.18 L1225.08 163.66 L1224.94 165.15 L1224.79 166.65 L1224.65 168.16 L1224.50 169.68 L1224.35 171.21 L1224.21 172.74 L1224.06 174.27 L1223.91 175.81 L1223.76 177.35 L1223.60 178.89 L1223.45 180.43 L1223.29 181.97 L1223.13 183.50 L1222.97 185.03 L1222.80 186.56 L1222.63 188.08 L1222.47 189.60 L1222.29 191.12 L1222.12 192.63 L1221.95 194.13 L1221.77 195.62 L1221.59 197.11 L1221.41 198.61 L1221.23 200.10 L1221.05 201.60 L1220.86 203.10 L1220.67 204.61 L1220.47 206.12 L1220.28 207.63 L1220.08 209.15 L1219.87 210.66 L1219.67 212.18 L1219.46 213.69 L1219.24 215.20 L1219.03 216.71 L1218.80 218.21 L1218.58 219.71 L1218.35 221.21 L1218.11 222.70 L1217.87 224.18 L1217.63 225.65 L1217.38 227.10 L1217.12 228.56 L1216.86 230.01 L1216.59 231.45 L1216.31 232.89 L1216.03 234.33 L1215.73 235.76 L1215.44 237.18 L1215.12 238.63 L1214.79 240.14 L1214.44 241.66 L1214.08 243.19 L1213.72 244.72 L1213.34 246.26 L1212.95 247.81 L1212.55 249.35 L1212.15 250.89 L1211.73 252.42 L1211.31 253.95 L1210.89 255.46 L1210.47 256.96 L1210.04 258.45 L1209.61 259.92 L1209.18 261.36 L1208.75 262.78 L1208.32 264.18 L1207.90 265.56 L1207.47 266.92 L1207.05 268.26 L1206.62 269.59 L1206.19 270.90 L1205.76 272.21 L1205.33 273.52 L1204.89 274.83 L1204.45 276.12 L1203.93 277.63 L1203.35 279.28 L1202.75 280.97 L1202.13 282.68 L1201.50 284.41 L1200.85 286.14 L1200.21 287.84 L1199.57 289.49 L1198.94 291.09 L1198.33 292.60 L1197.75 294.04 L1197.18 295.41 L1196.65 296.69 L1196.14 297.88 L1195.66 299.01 L1195.22 300.06 L1194.80 301.03 L1194.42 301.93 L1193.85 303.28 L1193.29 304.65 L1192.79 305.85 L1192.29 307.10 L1191.76 308.45 L1191.24 309.83 L1190.70 311.30 L1190.15 312.83 L1189.60 314.42 L1189.12 315.89 L1188.66 317.30 L1188.22 318.75 L1187.78 320.24 L1187.35 321.78 L1186.92 323.39 L1186.50 325.09 L1186.20 326.37 L1185.90 327.70 L1185.61 329.12 L1185.33 330.58 L1185.06 332.08 L1184.80 333.63 L1184.55 335.24 L1184.32 336.85 L1184.10 338.47 L1183.89 340.11 L1183.70 341.73 L1183.51 343.32 L1183.34 344.88 L1183.17 346.43 L1183.00 347.97 L1182.84 349.51 L1182.68 351.04 L1182.52 352.56 L1182.36 354.08 L1182.19 355.60 L1182.03 357.12 L1181.86 358.63 L1181.68 360.12 L1181.50 361.61 L1181.31 363.09 L1181.12 364.55 L1180.91 366.08 L1180.68 367.60 L1180.45 369.12 L1180.19 370.63 L1179.92 372.14 L1179.64 373.62 L1179.34 375.09 L1179.02 376.52 L1178.68 377.94 L1178.32 379.34 L1177.95 380.71 L1177.54 382.12 L1177.08 383.59 L1176.61 385.03 L1176.12 386.44 L1175.61 387.83 L1175.08 389.22 L1174.53 390.62 L1173.94 392.02 L1173.34 393.44 L1172.70 394.90 L1172.11 396.19 L1171.51 397.49 L1170.89 398.80 L1170.26 400.10 L1169.61 401.43 L1168.95 402.76 L1168.27 404.12 L1167.57 405.49 L1166.86 406.88 L1166.13 408.28 L1165.39 409.69 L1164.63 411.13 L1163.97 412.36 L1163.29 413.63 L1162.59 414.91 L1161.87 416.22 L1161.14 417.54 L1160.40 418.88 L1159.64 420.22 L1158.87 421.58 L1158.09 422.93 L1157.31 424.29 L1156.52 425.64 L1155.72 426.97 L1154.92 428.30 L1154.13 429.61 L1153.34 430.89 L1152.57 432.13 L1151.78 433.38 L1150.96 434.66 L1150.17 435.91 L1149.38 437.12 L1148.60 438.31 L1147.82 439.49 L1147.05 440.66 L1146.26 441.84 L1145.47 443.03 L1144.67 444.24 L1143.84 445.48 L1143.01 446.75 L1142.14 448.06 L1141.25 449.42 L1140.33 450.84 L1139.65 451.91 L1138.93 453.04 L1138.17 454.24 L1137.39 455.49 L1136.58 456.79 L1135.74 458.17 L1134.87 459.59 L1133.98 461.07 L1133.07 462.58 L1132.13 464.14 L1131.18 465.73 L1130.23 467.33 L1129.27 468.95 L1128.32 470.54 L1127.38 472.11 L1126.47 473.62 L1125.58 475.08 L1124.73 476.47 L1123.90 477.79 L1123.11 479.04 L1122.35 480.21 L1121.62 481.30 L1120.92 482.31 L1120.25 483.25 L1119.61 484.12 L1119.02 484.92 L1118.51 485.67 L1117.82 486.64 L1116.85 487.96 L1115.99 489.08 L1115.15 490.12 L1114.20 491.21 L1113.13 492.35 L1112.11 493.33 L1110.97 494.29 L1109.71 495.20 L1108.30 496.07 L1106.79 496.86 L1105.26 497.55 L1103.74 498.07 L1102.23 498.44 L1100.71 498.60 L1099.37 498.53 L1098.13 498.29 L1096.88 497.90 L1095.61 497.39 L1094.33 496.78 L1093.02 496.09 L1091.66 495.32 L1090.30 494.53 L1088.78 493.68 L1087.32 492.79 L1085.90 491.91 L1084.52 491.05 L1083.15 490.23 L1081.80 489.47 L1080.90 489.00" fill="none" stroke="#780000" stroke-width="3.5" stroke-linejoin="round" stroke-linecap="butt"/>
<path d="M1189.54 90.39 A33.40 33.40 0 1 1 1252.89 70.90" fill="none" stroke="#780000" stroke-width="3.5"/>
<path d="M1257.3 92.2 L1243.6 66.4 L1254.0 69.0 L1264.1 63.4 Z" fill="#780000"/>
<path d="M1269.80 147.70 L1269.40 149.17 L1269.01 150.66 L1268.62 152.14 L1268.24 153.63 L1267.85 155.11 L1267.47 156.61 L1267.08 158.10 L1266.69 159.59 L1266.30 161.08 L1265.90 162.58 L1265.50 164.06 L1265.09 165.55 L1264.67 167.04 L1264.25 168.52 L1263.82 169.99 L1263.37 171.46 L1262.95 172.88 L1262.53 174.28 L1262.10 175.69 L1261.65 177.11 L1261.20 178.56 L1260.74 180.01 L1260.27 181.44 L1259.80 182.86 L1259.33 184.27 L1258.85 185.68 L1258.36 187.08 L1257.88 188.48 L1257.39 189.88 L1256.89 191.27 L1256.39 192.67 L1255.89 194.08 L1255.38 195.49 L1254.86 196.91 L1254.34 198.34 L1253.82 199.78 L1253.30 201.22 L1252.77 202.68 L1252.23 204.15 L1251.71 205.60 L1251.21 206.97 L1250.71 208.37 L1250.20 209.79 L1249.68 211.22 L1249.16 212.67 L1248.64 214.13 L1248.11 215.60 L1247.57 217.09 L1247.03 218.58 L1246.48 220.08 L1245.94 221.57 L1245.39 223.06 L1244.84 224.54 L1244.29 226.01 L1243.74 227.45 L1243.19 228.88 L1242.64 230.29 L1242.09 231.68 L1241.54 233.05 L1240.99 234.39 L1240.44 235.71 L1239.90 237.00 L1239.36 238.26 L1238.71 239.74 L1238.06 241.20 L1237.41 242.62 L1236.77 244.01 L1236.12 245.38 L1235.47 246.73 L1234.83 248.07 L1234.17 249.38 L1233.52 250.69 L1232.86 251.98 L1232.20 253.26 L1231.53 254.55 L1230.85 255.83 L1230.16 257.12 L1229.45 258.42 L1228.74 259.73 L1228.01 261.04 L1227.28 262.33 L1226.55 263.63 L1225.81 264.93 L1225.07 266.21 L1224.31 267.51 L1223.55 268.81 L1222.79 270.11 L1222.02 271.41 L1221.25 272.71 L1220.47 274.01 L1219.69 275.31 L1218.90 276.62 L1218.11 277.93 L1217.31 279.26 L1216.51 280.58 L1215.71 281.91 L1214.93 283.21 L1214.15 284.51 L1213.36 285.82 L1212.56 287.15 L1211.76 288.49 L1210.95 289.84 L1210.14 291.20 L1209.33 292.56 L1208.52 293.92 L1207.72 295.28 L1206.93 296.62 L1206.15 297.96 L1205.38 299.28 L1204.62 300.59 L1203.88 301.88 L1203.15 303.16 L1202.44 304.41 L1201.75 305.64 L1201.08 306.84 L1200.31 308.25 L1199.55 309.64 L1198.82 311.00 L1198.10 312.34 L1197.41 313.66 L1196.74 314.97 L1196.07 316.26 L1195.42 317.55 L1194.77 318.84 L1194.14 320.13 L1193.51 321.42 L1192.87 322.72 L1192.24 324.04 L1191.58 325.41 L1190.93 326.77 L1190.27 328.13 L1189.61 329.47 L1188.95 330.82 L1188.27 332.16 L1187.57 333.49 L1186.87 334.81 L1186.14 336.11 L1185.39 337.40 L1184.61 338.67 L1183.80 339.94 L1182.98 341.16 L1182.14 342.36 L1181.25 343.55 L1180.32 344.75 L1179.36 345.94 L1178.37 347.12 L1177.34 348.29 L1176.28 349.45 L1175.20 350.60 L1174.11 351.74 L1173.00 352.86 L1171.89 353.96 L1170.78 355.04 L1169.68 356.10 L1168.57 357.15 L1167.48 358.18 L1166.39 359.21 L1165.30 360.22 L1164.23 361.23 L1163.16 362.23 L1162.09 363.25 L1161.03 364.26 L1159.97 365.29 L1158.92 366.33 L1157.87 367.39 L1156.81 368.47 L1155.76 369.58 L1154.73 370.68 L1153.75 371.75 L1152.76 372.86 L1151.77 374.00 L1150.77 375.17 L1149.76 376.36 L1148.76 377.56 L1147.77 378.77 L1146.78 379.98 L1145.80 381.19 L1144.82 382.40 L1143.86 383.58 L1142.90 384.75 L1141.95 385.89 L1141.02 387.00 L1140.10 388.07 L1139.14 389.19 L1138.06 390.41 L1136.99 391.59 L1135.94 392.74 L1134.88 393.87 L1133.83 394.96 L1132.77 396.03 L1131.71 397.08 L1130.65 398.12 L1129.57 399.14 L1128.47 400.17 L1127.35 401.19 L1126.23 402.19 L1125.10 403.17 L1123.97 404.15 L1122.83 405.11 L1121.68 406.07 L1120.53 407.02 L1119.36 407.96 L1118.18 408.91 L1116.98 409.85 L1115.78 410.80 L1114.57 411.73 L1113.41 412.63 L1112.24 413.52 L1111.07 414.42 L1109.89 415.31 L1108.70 416.20 L1107.50 417.10 L1106.29 418.00 L1105.06 418.91 L1103.82 419.83 L1102.56 420.75 L1101.28 421.69 L1099.99 422.63 L1098.83 423.47 L1097.66 424.31 L1096.48 425.16 L1095.28 426.02 L1094.07 426.88 L1092.85 427.75 L1091.61 428.62 L1090.35 429.50 L1089.08 430.39 L1087.80 431.28 L1086.50 432.18 L1085.19 433.08 L1083.88 433.98 L1082.55 434.88 L1081.22 435.77 L1079.89 436.66 L1078.69 437.46 L1077.49 438.26 L1076.27 439.07 L1075.04 439.87 L1073.80 440.68 L1072.55 441.49 L1071.30 442.30 L1070.03 443.11 L1068.76 443.92 L1067.48 444.73 L1066.19 445.55 L1064.89 446.36 L1063.59 447.17 L1062.29 447.97 L1060.98 448.77 L1059.68 449.57 L1058.38 450.36 L1057.08 451.14 L1055.79 451.92 L1054.50 452.69 L1053.19 453.46 L1051.88 454.23 L1050.57 455.00 L1049.26 455.76 L1047.96 456.51 L1046.65 457.27 L1045.34 458.01 L1044.03 458.75 L1042.71 459.49 L1041.40 460.22 L1040.09 460.95 L1038.78 461.68 L1037.47 462.40 L1036.15 463.11 L1034.84 463.82 L1033.52 464.53 L1032.20 465.24 L1030.88 465.94 L1029.54 466.64 L1028.19 467.35 L1026.83 468.06 L1025.47 468.76 L1024.10 469.46 L1022.74 470.16 L1021.37 470.85 L1020.01 471.54 L1018.64 472.23 L1017.27 472.91 L1015.91 473.58 L1014.54 474.25 L1013.17 474.92 L1011.81 475.58 L1010.44 476.24 L1009.07 476.89 L1007.70 477.54 L1006.33 478.19 L1004.96 478.83 L1003.58 479.47 L1002.20 480.11 L1000.81 480.75 L999.43 481.38 L998.04 482.01 L996.65 482.64 L995.27 483.26 L993.88 483.88 L992.49 484.49 L991.10 485.10 L989.71 485.70 L988.32 486.30 L986.93 486.90 L985.54 487.49 L984.15 488.08 L982.75 488.66 L981.36 489.24 L979.97 489.82 L978.56 490.39 L977.15 490.97 L975.74 491.53 L974.33 492.10 L972.92 492.66 L971.50 493.22 L970.09 493.77 L968.68 494.32 L967.26 494.86 L965.85 495.40 L964.44 495.94 L963.02 496.47 L961.61 497.00 L960.19 497.53 L958.78 498.05 L957.36 498.57 L955.94 499.09 L954.52 499.60 L953.08 500.12 L951.64 500.63 L950.20 501.14 L948.75 501.65 L947.31 502.15 L945.86 502.66 L944.42 503.15 L942.97 503.65 L941.52 504.14 L940.07 504.63 L938.63 505.11 L937.18 505.59 L935.73 506.07 L934.28 506.55 L932.84 507.02 L931.39 507.48 L929.94 507.95 L928.51 508.41 L927.07 508.86 L925.63 509.31 L924.19 509.76 L922.76 510.20 L921.32 510.65 L919.89 511.08 L918.45 511.52 L917.01 511.95 L915.58 512.38 L914.14 512.80 L912.70 513.22 L911.26 513.64 L909.82 514.06 L908.38 514.47 L906.94 514.88 L905.49 515.29 L904.03 515.69 L902.57 516.10 L901.10 516.50 L899.63 516.90 L898.16 517.30 L896.69 517.69 L895.21 518.08 L893.74 518.47 L892.27 518.85 L890.80 519.23 L889.33 519.61 L887.86 519.99 L886.39 520.36 L884.92 520.73 L883.44 521.10 L881.97 521.47 L880.49 521.83 L879.01 522.19 L877.53 522.55 L876.04 522.91 L874.54 523.27 L873.04 523.63 L871.53 523.99 L870.03 524.34 L868.53 524.69 L867.04 525.03 L865.56 525.38 L864.08 525.71 L862.62 526.04 L861.16 526.37 L859.73 526.69 L858.30 527.01 L856.88 527.32 L855.48 527.63 L853.99 527.95 L852.44 528.29 L850.92 528.62 L849.42 528.95 L847.92 529.28 L846.44 529.61 L844.97 529.93 L843.51 530.27 L842.05 530.60 L840.60 530.94 L839.14 531.29 L837.67 531.65 L836.19 532.01 L834.69 532.38 L833.17 532.76 L831.61 533.15 L830.02 533.55 L828.42 533.96 L826.80 534.39 L825.20 534.83 L823.62 535.26 L822.10 535.68 L820.66 536.07 L819.28 536.41 L817.99 536.70 L816.78 536.94 L815.61 537.11 L814.03 537.25 L811.97 537.27 L809.87 537.12 L808.21 536.84 L806.87 536.45 L805.91 535.95 L805.35 535.10 L805.54 533.60 L806.56 531.90 L807.66 531.09 L808.63 530.71 L809.93 530.39 L811.57 530.05 L813.35 529.70 L815.13 529.33 L816.26 529.10 L817.46 528.83 L818.74 528.55 L820.12 528.25 L821.56 527.92 L823.07 527.58 L824.64 527.22 L826.23 526.85 L827.81 526.47 L829.40 526.10 L831.00 525.72 L832.58 525.35 L834.11 525.00 L835.59 524.66 L837.06 524.31 L838.50 523.98 L839.94 523.64 L841.36 523.31 L842.78 522.98 L844.20 522.64 L845.63 522.31 L847.06 521.97 L848.51 521.62 L849.97 521.28 L851.44 520.93 L852.93 520.57 L854.44 520.21 L855.87 519.86 L857.28 519.52 L858.70 519.18 L860.13 518.83 L861.58 518.48 L863.04 518.12 L864.52 517.76 L866.00 517.39 L867.50 517.02 L869.01 516.65 L870.51 516.27 L872.02 515.89 L873.53 515.51 L875.04 515.13 L876.54 514.75 L878.03 514.37 L879.51 513.99 L880.99 513.61 L882.47 513.23 L883.94 512.84 L885.41 512.46 L886.89 512.07 L888.36 511.68 L889.83 511.29 L891.30 510.90 L892.78 510.51 L894.25 510.11 L895.72 509.71 L897.19 509.31 L898.67 508.91 L900.14 508.50 L901.60 508.10 L903.07 507.69 L904.54 507.28 L905.99 506.87 L907.43 506.46 L908.88 506.05 L910.32 505.64 L911.75 505.22 L913.19 504.81 L914.63 504.39 L916.06 503.97 L917.50 503.54 L918.93 503.12 L920.37 502.69 L921.81 502.26 L923.24 501.82 L924.68 501.38 L926.11 500.94 L927.55 500.50 L928.99 500.05 L930.43 499.60 L931.88 499.14 L933.32 498.69 L934.77 498.22 L936.22 497.76 L937.67 497.29 L939.11 496.82 L940.56 496.34 L942.01 495.86 L943.46 495.38 L944.90 494.90 L946.35 494.41 L947.79 493.92 L949.24 493.43 L950.68 492.93 L952.12 492.44 L953.56 491.93 L955.00 491.43 L956.42 490.93 L957.84 490.43 L959.26 489.92 L960.67 489.41 L962.09 488.90 L963.50 488.39 L964.91 487.87 L966.33 487.35 L967.74 486.82 L969.16 486.29 L970.57 485.76 L971.98 485.23 L973.40 484.69 L974.81 484.14 L976.22 483.60 L977.63 483.05 L979.04 482.50 L980.45 481.94 L981.84 481.39 L983.23 480.83 L984.62 480.27 L986.02 479.71 L987.40 479.14 L988.79 478.57 L990.18 477.99 L991.57 477.42 L992.96 476.83 L994.34 476.25 L995.73 475.66 L997.12 475.06 L998.50 474.47 L999.89 473.86 L1001.27 473.26 L1002.66 472.65 L1004.04 472.04 L1005.42 471.42 L1006.79 470.81 L1008.16 470.19 L1009.52 469.56 L1010.89 468.94 L1012.26 468.31 L1013.62 467.67 L1014.98 467.03 L1016.35 466.39 L1017.71 465.74 L1019.07 465.09 L1020.43 464.44 L1021.79 463.78 L1023.15 463.11 L1024.51 462.44 L1025.87 461.77 L1027.23 461.09 L1028.59 460.41 L1029.94 459.73 L1031.29 459.04 L1032.63 458.35 L1033.98 457.66 L1035.32 456.96 L1036.67 456.26 L1038.00 455.56 L1039.35 454.85 L1040.69 454.13 L1042.03 453.41 L1043.37 452.69 L1044.71 451.96 L1046.04 451.23 L1047.38 450.49 L1048.72 449.75 L1050.06 449.00 L1051.39 448.25 L1052.73 447.50 L1054.06 446.74 L1055.38 445.98 L1056.69 445.22 L1058.01 444.46 L1059.33 443.69 L1060.66 442.91 L1061.98 442.13 L1063.30 441.34 L1064.64 440.54 L1065.96 439.75 L1067.27 438.95 L1068.58 438.15 L1069.88 437.36 L1071.18 436.56 L1072.46 435.76 L1073.73 434.97 L1075.00 434.18 L1076.24 433.39 L1077.49 432.60 L1078.72 431.81 L1079.94 431.02 L1081.27 430.16 L1082.59 429.29 L1083.91 428.42 L1085.23 427.56 L1086.54 426.69 L1087.83 425.82 L1089.11 424.95 L1090.37 424.10 L1091.62 423.25 L1092.86 422.40 L1094.08 421.56 L1095.29 420.72 L1096.48 419.89 L1097.66 419.06 L1098.82 418.24 L1099.98 417.42 L1101.28 416.50 L1102.56 415.59 L1103.82 414.68 L1105.06 413.78 L1106.29 412.89 L1107.51 412.01 L1108.71 411.12 L1109.91 410.25 L1111.08 409.38 L1112.25 408.51 L1113.42 407.63 L1114.57 406.75 L1115.76 405.84 L1116.95 404.92 L1118.12 404.00 L1119.28 403.08 L1120.41 402.16 L1121.53 401.22 L1122.65 400.26 L1123.75 399.29 L1124.84 398.31 L1125.93 397.29 L1127.02 396.24 L1128.07 395.18 L1129.11 394.11 L1130.14 393.01 L1131.18 391.86 L1132.21 390.69 L1133.24 389.48 L1134.25 388.26 L1135.24 387.02 L1136.22 385.77 L1137.19 384.53 L1138.13 383.27 L1139.06 382.04 L1139.95 380.82 L1140.87 379.56 L1141.78 378.31 L1142.67 377.07 L1143.56 375.84 L1144.43 374.62 L1145.30 373.41 L1146.17 372.22 L1147.03 371.03 L1147.90 369.85 L1148.77 368.68 L1149.64 367.53 L1150.54 366.35 L1151.45 365.17 L1152.36 364.02 L1153.27 362.88 L1154.20 361.76 L1155.14 360.64 L1156.09 359.53 L1157.07 358.40 L1158.08 357.28 L1159.13 356.13 L1160.17 355.02 L1161.18 353.97 L1162.22 352.90 L1163.31 351.82 L1164.42 350.73 L1165.56 349.63 L1166.72 348.54 L1167.88 347.47 L1169.04 346.41 L1170.19 345.38 L1171.32 344.38 L1172.43 343.41 L1173.51 342.48 L1174.55 341.59 L1175.81 340.53 L1177.03 339.51 L1178.21 338.53 L1179.37 337.58 L1180.50 336.65 L1181.63 335.73 L1182.76 334.81 L1183.90 333.87 L1185.07 332.91 L1186.22 331.96 L1187.35 331.00 L1188.48 330.04 L1189.60 329.06 L1190.73 328.05 L1191.86 327.01 L1193.02 325.91 L1194.07 324.89 L1195.09 323.86 L1196.12 322.79 L1197.17 321.66 L1198.22 320.49 L1199.26 319.29 L1200.29 318.07 L1201.30 316.84 L1202.28 315.60 L1203.23 314.39 L1204.14 313.20 L1205.00 312.07 L1205.98 310.75 L1206.94 309.46 L1207.89 308.19 L1208.82 306.94 L1209.73 305.73 L1210.62 304.55 L1211.49 303.41 L1212.34 302.30 L1213.27 301.08 L1214.22 299.86 L1215.15 298.66 L1216.06 297.49 L1216.95 296.33 L1217.82 295.18 L1218.70 294.03 L1219.53 292.91 L1220.35 291.80 L1221.19 290.65 L1222.10 289.40 L1223.08 288.01 L1223.76 287.06 L1224.46 286.06 L1225.21 284.99 L1225.99 283.87 L1226.81 282.69 L1227.66 281.46 L1228.56 280.18 L1229.48 278.86 L1230.44 277.50 L1231.41 276.12 L1232.40 274.72 L1233.40 273.31 L1234.40 271.91 L1235.39 270.52 L1236.37 269.15 L1237.21 267.99 L1238.05 266.81 L1238.90 265.63 L1239.75 264.44 L1240.62 263.24 L1241.49 262.02 L1242.36 260.80 L1243.24 259.56 L1244.12 258.31 L1245.00 257.04 L1245.89 255.77 L1246.77 254.48 L1247.65 253.19 L1248.52 251.88 L1249.38 250.58 L1250.23 249.27 L1251.07 247.95 L1251.89 246.63 L1252.69 245.32 L1253.47 244.02 L1254.24 242.71 L1254.99 241.40 L1255.74 240.07 L1256.47 238.73 L1257.20 237.38 L1257.92 236.02 L1258.62 234.66 L1259.31 233.28 L1260.00 231.91 L1260.67 230.53 L1261.32 229.16 L1261.97 227.78 L1262.60 226.42 L1263.22 225.06 L1263.82 223.71 L1264.41 222.37 L1264.99 221.04 L1265.56 219.71 L1266.11 218.40 L1266.66 217.08 L1267.22 215.71 L1267.82 214.20 L1268.42 212.69 L1269.00 211.18 L1269.57 209.67 L1270.13 208.17 L1270.67 206.68 L1271.19 205.21 L1271.70 203.75 L1272.18 202.31 L1272.64 200.90 L1273.08 199.50 L1273.51 198.11 L1273.91 196.74 L1274.30 195.38 L1274.66 194.05 L1275.07 192.48 L1275.45 190.93 L1275.80 189.40 L1276.11 187.90 L1276.40 186.41 L1276.65 184.93 L1276.88 183.47 L1277.06 182.02 L1277.21 180.58 L1277.32 179.15 L1277.39 177.72 L1277.42 176.16 L1277.39 174.57 L1277.29 172.98 L1277.14 171.40 L1276.93 169.87 L1276.67 168.38 L1276.36 166.96 L1276.02 165.58 L1275.66 164.30 L1275.24 162.90 L1274.77 161.42 L1274.28 159.93 L1273.80 158.43 L1273.36 156.98 L1272.98 155.63 L1272.67 154.37 L1272.39 152.99 L1272.18 151.62 L1272.03 150.24 L1271.96 148.88 L1271.96 147.54 L1272.03 146.20 L1272.16 144.87 L1272.36 143.49 L1272.63 142.00 L1272.96 140.54 L1273.26 139.33 L1273.62 138.04 L1274.01 136.68 L1274.46 135.27 L1274.94 133.82 L1275.44 132.33 L1275.98 130.82 L1276.52 129.32 L1277.08 127.83 L1277.62 126.40 L1278.18 124.97 L1278.77 123.50 L1279.38 122.04 L1280.00 120.55 L1280.59 119.05 L1281.19 117.58 L1281.78 116.17 L1282.37 114.81 L1282.93 113.54 L1283.50 112.34 L1284.20 110.92 L1285.03 109.39 L1285.90 107.93 L1286.78 106.61 L1287.64 105.50 L1288.51 104.59 L1289.85 103.59 L1291.42 102.85 L1292.97 102.47 L1294.53 102.41 L1296.23 102.67 L1297.93 103.38 L1298.94 104.38 L1299.41 105.44 L1299.67 106.79 L1299.75 108.42 L1299.64 110.10 L1299.44 111.49 L1299.18 112.81 L1298.84 114.19 L1298.43 115.63 L1297.94 117.11 L1297.37 118.64 L1296.77 120.08 L1296.16 121.38 L1295.51 122.73 L1294.88 124.14 L1294.17 125.55 L1293.39 126.93 L1292.58 128.24 L1291.74 129.46 L1290.92 130.55 L1290.13 131.52 L1289.28 132.47 L1288.31 133.55 L1287.41 134.58 L1286.45 135.55 L1285.34 136.52 L1284.28 137.32 L1283.03 138.14 L1281.60 138.91 L1280.04 139.61 L1278.46 140.23 L1276.99 140.80 L1275.70 141.38 L1274.45 142.13 L1273.31 143.09 L1272.26 144.28 L1271.33 145.58 L1270.43 146.88 L1269.80 147.70" fill="none" stroke="#780000" stroke-width="3.5" stroke-linejoin="round" stroke-linecap="butt"/>
<path d="M1262.64 95.24 A34.90 34.90 0 1 1 1331.04 109.16" fill="none" stroke="#780000" stroke-width="3.5"/>
<path d="M1319.5 134.0 L1321.8 104.4 L1330.0 111.0 L1340.7 113.5 Z" fill="#780000"/>
<circle cx="1191.1" cy="307.5" r="6.2" fill="#fff" stroke="#780000" stroke-width="2.85"/>
<circle cx="1218.7" cy="295.4" r="6.2" fill="#fff" stroke="#780000" stroke-width="2.85"/>
<circle cx="1080.9" cy="489.0" r="7.5" fill="#780000"/>
<circle cx="925.2" cy="500.4" r="7.5" fill="#780000"/>
<circle cx="1269.3" cy="147.7" r="6.3" fill="#780000"/>
<text x="244.5" y="32.2" class="lab" fill="#780000">Baseline</text>
<text x="642.2" y="31.7" class="lab" fill="#780000">15 min reperfusion</text>
<text x="931.5" y="140.9" class="lab" fill="#780000">4 hrs ischemia</text>
<text x="1280.7" y="253.2" class="lab" fill="#780000">15 min</text>
<text x="1280.7" y="291.8" class="lab" fill="#780000">ischemia</text>
<circle cx="1290.3" cy="498.5" r="7.1" fill="#fff" stroke="#780000" stroke-width="2.9"/>
<circle cx="1290.3" cy="528.0" r="8.6" fill="#780000"/>
<text x="1306.8" y="506.4" class="leg">es</text>
<text x="1306.8" y="537.9" class="leg">ed</text>
<circle cx="1290.3" cy="1243.5" r="7.1" fill="#fff" stroke="#000" stroke-width="2.9"/>
<circle cx="1290.3" cy="1273.0" r="8.6" fill="#000"/>
<text x="1306.8" y="1251.4" class="leg">es</text>
<text x="1306.8" y="1282.9" class="leg">ed</text>
<path d="M486.20 1309.50 L487.62 1308.94 L489.08 1308.41 L490.55 1307.91 L492.06 1307.43 L493.58 1306.97 L495.12 1306.50 L496.67 1306.02 L498.22 1305.52 L499.77 1304.99 L501.31 1304.41 L502.81 1303.79 L504.26 1303.12 L505.64 1302.40 L506.95 1301.64 L508.17 1300.83 L509.32 1299.98 L510.42 1299.24 L511.49 1298.46 L512.51 1297.66 L513.52 1296.81 L514.47 1295.93 L515.39 1295.02 L516.28 1294.07 L517.14 1293.06 L517.98 1292.00 L518.79 1290.89 L519.58 1289.72 L520.34 1288.49 L521.09 1287.21 L521.80 1285.87 L522.49 1284.49 L523.16 1283.05 L523.80 1281.57 L524.41 1280.06 L524.99 1278.51 L525.55 1276.95 L526.08 1275.36 L526.57 1273.78 L527.03 1272.20 L527.47 1270.63 L527.87 1269.09 L528.24 1267.56 L528.54 1266.21 L528.83 1264.88 L529.09 1263.55 L529.33 1262.23 L529.56 1260.92 L529.76 1259.61 L529.96 1258.30 L530.13 1256.97 L530.30 1255.62 L530.45 1254.26 L530.58 1252.88 L530.71 1251.47 L530.83 1250.03 L530.94 1248.56 L531.03 1247.06 L531.12 1245.52 L531.21 1243.93 L531.29 1242.31 L531.36 1240.64 L531.43 1238.94 L531.49 1237.21 L531.55 1235.45 L531.61 1233.68 L531.66 1231.89 L531.72 1230.10 L531.77 1228.34 L531.81 1226.74 L531.84 1225.50 L531.87 1224.26 L531.90 1223.01 L531.93 1221.77 L531.96 1220.52 L531.98 1219.26 L532.01 1217.99 L532.03 1216.70 L532.05 1215.40 L532.07 1214.07 L532.09 1212.72 L532.10 1211.36 L532.11 1209.96 L532.12 1208.53 L532.13 1207.09 L532.14 1205.63 L532.15 1204.15 L532.15 1202.64 L532.15 1201.13 L532.15 1199.60 L532.15 1198.06 L532.15 1196.50 L532.14 1194.94 L532.13 1193.38 L532.13 1191.80 L532.12 1190.22 L532.11 1188.63 L532.09 1187.04 L532.08 1185.44 L532.07 1183.85 L532.06 1182.25 L532.04 1180.64 L532.03 1179.03 L532.01 1177.42 L532.00 1175.81 L531.98 1174.19 L531.97 1172.58 L531.96 1170.96 L531.94 1169.34 L531.93 1167.73 L531.91 1166.11 L531.90 1164.49 L531.89 1162.88 L531.88 1161.27 L531.87 1159.66 L531.86 1158.06 L531.85 1156.46 L531.84 1154.88 L531.83 1153.31 L531.83 1151.74 L531.82 1150.19 L531.82 1148.65 L531.82 1147.12 L531.81 1145.67 L531.81 1144.22 L531.81 1142.76 L531.81 1141.30 L531.81 1139.84 L531.81 1138.37 L531.81 1136.89 L531.81 1135.40 L531.81 1133.91 L531.81 1132.40 L531.81 1130.89 L531.81 1129.37 L531.81 1127.85 L531.81 1126.32 L531.82 1124.79 L531.82 1123.24 L531.82 1121.70 L531.82 1120.15 L531.82 1118.60 L531.82 1117.05 L531.83 1115.49 L531.83 1113.94 L531.83 1112.38 L531.83 1110.82 L531.83 1109.27 L531.83 1107.70 L531.83 1106.15 L531.84 1104.60 L531.84 1103.04 L531.84 1101.49 L531.84 1099.94 L531.84 1098.39 L531.84 1096.84 L531.84 1095.30 L531.84 1093.76 L531.84 1092.21 L531.84 1090.68 L531.84 1089.14 L531.84 1087.62 L531.84 1086.09 L531.84 1084.58 L531.84 1083.08 L531.84 1081.58 L531.84 1080.09 L531.84 1078.61 L531.84 1077.14 L531.83 1075.69 L531.83 1074.25 L531.83 1072.82 L531.83 1071.40 L531.82 1069.99 L531.82 1068.60 L531.82 1067.22 L531.81 1065.84 L531.81 1064.46 L531.81 1063.08 L531.80 1061.71 L531.80 1060.33 L531.79 1058.87 L531.79 1057.24 L531.78 1055.61 L531.77 1053.97 L531.77 1052.34 L531.76 1050.70 L531.75 1049.06 L531.74 1047.43 L531.74 1045.80 L531.73 1044.20 L531.72 1042.60 L531.71 1041.01 L531.70 1039.45 L531.69 1037.89 L531.68 1036.34 L531.67 1034.80 L531.66 1033.28 L531.65 1031.76 L531.64 1030.24 L531.63 1028.74 L531.62 1027.24 L531.61 1025.76 L531.60 1024.27 L531.59 1022.79 L531.57 1021.31 L531.56 1019.84 L531.55 1018.39 L531.54 1016.93 L531.52 1015.47 L531.51 1014.02 L531.49 1012.58 L531.48 1011.16 L531.47 1009.73 L531.45 1008.31 L531.44 1006.89 L531.42 1005.48 L531.41 1004.07 L531.39 1002.67 L531.38 1001.26 L531.36 999.84 L531.35 998.43 L531.33 997.01 L531.32 995.58 L531.30 994.05 L531.29 992.46 L531.27 990.85 L531.25 989.24 L531.24 987.63 L531.22 986.01 L531.21 984.39 L531.19 982.77 L531.18 981.15 L531.16 979.55 L531.15 977.95 L531.13 976.35 L531.12 974.76 L531.10 973.18 L531.08 971.61 L531.06 970.05 L531.04 968.50 L531.02 966.95 L531.00 965.42 L530.97 963.90 L530.95 962.40 L530.92 960.91 L530.89 959.42 L530.85 957.96 L530.81 956.51 L530.77 955.07 L530.73 953.65 L530.69 952.24 L530.64 950.84 L530.59 949.45 L530.53 948.06 L530.47 946.69 L530.41 945.32 L530.35 943.94 L530.28 942.56 L530.20 941.10 L530.11 939.44 L530.02 937.80 L529.91 936.15 L529.81 934.51 L529.70 932.87 L529.58 931.25 L529.47 929.65 L529.34 928.05 L529.21 926.49 L529.08 924.94 L528.94 923.42 L528.80 921.91 L528.65 920.43 L528.49 918.96 L528.33 917.51 L528.16 916.07 L527.98 914.64 L527.80 913.21 L527.60 911.80 L527.40 910.38 L527.19 908.97 L526.96 907.55 L526.73 906.13 L526.48 904.71 L526.21 903.22 L525.93 901.69 L525.63 900.16 L525.32 898.64 L524.99 897.12 L524.66 895.60 L524.31 894.09 L523.95 892.60 L523.57 891.12 L523.19 889.65 L522.79 888.19 L522.37 886.74 L521.94 885.31 L521.49 883.89 L521.03 882.49 L520.54 881.09 L520.04 879.71 L519.52 878.34 L518.98 876.97 L518.41 875.61 L517.83 874.26 L517.22 872.92 L516.60 871.60 L515.94 870.27 L515.27 868.95 L514.56 867.62 L513.84 866.31 L513.09 864.99 L512.31 863.68 L511.51 862.37 L510.68 861.07 L509.84 859.79 L508.98 858.51 L508.10 857.26 L507.20 856.02 L506.29 854.80 L505.37 853.59 L504.43 852.41 L503.48 851.26 L502.51 850.12 L501.54 849.01 L500.56 847.92 L499.57 846.86 L498.56 845.81 L497.51 844.75 L496.44 843.70 L495.36 842.68 L494.26 841.68 L493.16 840.70 L492.03 839.73 L490.89 838.78 L489.73 837.85 L488.55 836.92 L487.35 836.01 L486.13 835.10 L484.89 834.21 L483.62 833.33 L482.34 832.45 L481.04 831.59 L479.72 830.73 L478.39 829.89 L477.04 829.06 L475.67 828.24 L474.29 827.42 L473.08 826.73 L471.86 826.04 L470.61 825.36 L469.36 824.68 L468.09 824.01 L466.79 823.34 L465.48 822.67 L464.15 822.01 L462.80 821.36 L461.43 820.71 L460.04 820.06 L458.63 819.42 L457.20 818.79 L455.77 818.17 L454.33 817.55 L452.88 816.95 L451.42 816.36 L449.96 815.78 L448.51 815.21 L447.05 814.66 L445.60 814.13 L444.15 813.61 L442.71 813.11 L441.28 812.62 L439.85 812.15 L438.44 811.69 L437.04 811.26 L435.58 810.82 L434.13 810.39 L432.68 809.99 L431.24 809.59 L429.79 809.21 L428.36 808.85 L426.91 808.49 L425.47 808.15 L424.03 807.82 L422.58 807.50 L421.13 807.19 L419.67 806.90 L418.21 806.61 L416.74 806.33 L415.26 806.06 L413.78 805.80 L412.29 805.54 L410.78 805.29 L409.27 805.05 L407.74 804.81 L406.21 804.58 L404.67 804.36 L403.12 804.14 L401.57 803.93 L400.01 803.72 L398.58 803.54 L397.14 803.36 L395.68 803.19 L394.21 803.02 L392.73 802.85 L391.23 802.69 L389.71 802.54 L388.18 802.38 L386.63 802.24 L385.08 802.10 L383.50 801.96 L381.92 801.83 L380.34 801.70 L378.75 801.59 L377.16 801.47 L375.57 801.37 L373.99 801.27 L372.42 801.18 L370.86 801.10 L369.31 801.02 L367.78 800.96 L366.26 800.90 L364.77 800.84 L363.29 800.80 L361.83 800.76 L360.39 800.74 L358.96 800.72 L357.54 800.70 L356.15 800.70 L354.77 800.70 L353.22 800.72 L351.61 800.74 L350.02 800.77 L348.45 800.81 L346.90 800.87 L345.36 800.93 L343.85 800.99 L342.36 801.07 L340.88 801.15 L339.41 801.24 L337.95 801.34 L336.50 801.44 L335.05 801.55 L333.61 801.66 L332.16 801.79 L330.70 801.91 L329.23 802.04 L327.75 802.18 L326.24 802.32 L324.72 802.47 L323.19 802.62 L321.67 802.78 L320.21 802.93 L318.73 803.09 L317.23 803.25 L315.71 803.42 L314.17 803.59 L312.60 803.77 L311.04 803.95 L309.47 804.14 L307.88 804.33 L306.29 804.53 L304.70 804.73 L303.11 804.94 L301.53 805.15 L299.95 805.37 L298.40 805.59 L296.86 805.81 L295.34 806.03 L293.85 806.26 L292.37 806.49 L290.91 806.73 L289.47 806.96 L288.05 807.21 L286.66 807.45 L285.28 807.70 L283.93 807.95 L282.31 808.25 L280.71 808.57 L279.13 808.89 L277.56 809.22 L276.01 809.55 L274.48 809.90 L272.98 810.25 L271.51 810.61 L270.06 810.98 L268.64 811.36 L267.23 811.75 L265.85 812.15 L264.49 812.57 L263.14 813.00 L261.80 813.45 L260.48 813.91 L259.16 814.40 L257.76 814.94 L256.33 815.52 L254.91 816.13 L253.50 816.76 L252.12 817.42 L250.75 818.11 L249.41 818.82 L248.10 819.55 L246.83 820.30 L245.59 821.08 L244.37 821.89 L243.19 822.72 L242.05 823.57 L240.93 824.46 L239.84 825.38 L238.75 826.35 L237.69 827.35 L236.65 828.39 L235.64 829.46 L234.66 830.57 L233.70 831.72 L232.77 832.90 L231.85 834.11 L230.97 835.36 L230.11 836.64 L229.28 837.95 L228.48 839.29 L227.70 840.66 L227.01 841.94 L226.37 843.20 L225.74 844.49 L225.12 845.81 L224.52 847.17 L223.94 848.55 L223.37 849.96 L222.81 851.40 L222.27 852.85 L221.75 854.33 L221.23 855.83 L220.72 857.34 L220.23 858.85 L219.75 860.36 L219.29 861.87 L218.83 863.36 L218.39 864.85 L217.97 866.31 L217.55 867.78 L217.13 869.24 L216.73 870.70 L216.33 872.16 L215.94 873.62 L215.55 875.07 L215.17 876.53 L214.80 877.99 L214.43 879.45 L214.07 880.91 L213.72 882.37 L213.37 883.83 L213.02 885.30 L212.69 886.76 L212.36 888.22 L212.04 889.69 L211.72 891.15 L211.40 892.62 L211.10 894.10 L210.80 895.56 L210.51 897.02 L210.22 898.48 L209.95 899.94 L209.68 901.41 L209.42 902.87 L209.16 904.34 L208.91 905.82 L208.67 907.31 L208.44 908.81 L208.21 910.32 L207.99 911.85 L207.78 913.38 L207.58 914.93 L207.38 916.49 L207.21 917.97 L207.05 919.41 L206.90 920.85 L206.75 922.31 L206.62 923.78 L206.49 925.26 L206.36 926.76 L206.25 928.27 L206.14 929.79 L206.04 931.32 L205.94 932.87 L205.85 934.43 L205.77 935.99 L205.69 937.57 L205.62 939.14 L205.56 940.72 L205.50 942.29 L205.45 943.86 L205.40 945.42 L205.36 946.96 L205.33 948.50 L205.30 949.99 L205.28 951.44 L205.26 952.88 L205.25 954.30 L205.24 955.70 L205.23 957.10 L205.23 958.49 L205.24 959.88 L205.24 961.28 L205.25 962.68 L205.26 964.11 L205.28 965.56 L205.29 967.03 L205.31 968.53 L205.33 970.07 L205.35 971.63 L205.37 973.22 L205.39 974.84 L205.41 976.49 L205.42 978.16 L205.44 979.86 L205.46 981.57 L205.47 982.86 L205.47 984.17 L205.48 985.48 L205.49 986.81 L205.49 988.16 L205.50 989.51 L205.50 990.88 L205.51 992.27 L205.51 993.67 L205.51 995.11 L205.51 996.56 L205.51 998.04 L205.51 999.55 L205.51 1001.07 L205.51 1002.62 L205.51 1004.18 L205.51 1005.76 L205.51 1007.35 L205.50 1008.95 L205.50 1010.56 L205.50 1012.18 L205.50 1013.80 L205.50 1015.43 L205.50 1017.05 L205.51 1018.67 L205.51 1020.29 L205.51 1021.91 L205.52 1023.52 L205.52 1025.12 L205.53 1026.72 L205.54 1028.30 L205.55 1029.88 L205.56 1031.45 L205.57 1033.00 L205.58 1034.54 L205.59 1036.07 L205.61 1037.59 L205.62 1039.09 L205.64 1040.60 L205.66 1042.12 L205.68 1043.62 L205.70 1045.11 L205.72 1046.58 L205.75 1048.03 L205.77 1049.47 L205.80 1050.89 L205.82 1052.30 L205.85 1053.71 L205.87 1055.10 L205.90 1056.48 L205.93 1057.86 L205.96 1059.24 L205.99 1060.60 L206.02 1061.98 L206.05 1063.35 L206.08 1064.75 L206.12 1066.14 L206.15 1067.55 L206.19 1068.98 L206.22 1070.41 L206.26 1071.88 L206.29 1073.37 L206.33 1074.89 L206.37 1076.44 L206.41 1078.03 L206.45 1079.66 L206.49 1081.32 L206.53 1083.01 L206.58 1084.74 L206.62 1086.48 L206.67 1088.24 L206.71 1090.01 L206.75 1091.78 L206.80 1093.53 L206.83 1094.95 L206.86 1096.20 L206.89 1097.44 L206.93 1098.67 L206.96 1099.92 L206.99 1101.17 L207.02 1102.44 L207.05 1103.70 L207.08 1105.00 L207.12 1106.30 L207.15 1107.64 L207.19 1108.99 L207.22 1110.36 L207.26 1111.76 L207.29 1113.19 L207.33 1114.63 L207.37 1116.09 L207.41 1117.58 L207.45 1119.08 L207.49 1120.60 L207.53 1122.13 L207.57 1123.67 L207.61 1125.22 L207.65 1126.78 L207.69 1128.35 L207.73 1129.92 L207.77 1131.50 L207.81 1133.09 L207.86 1134.68 L207.90 1136.28 L207.94 1137.88 L207.98 1139.48 L208.03 1141.09 L208.07 1142.69 L208.11 1144.30 L208.15 1145.92 L208.20 1147.54 L208.24 1149.15 L208.28 1150.77 L208.32 1152.39 L208.36 1154.01 L208.41 1155.64 L208.45 1157.25 L208.49 1158.87 L208.53 1160.49 L208.57 1162.10 L208.61 1163.71 L208.66 1165.32 L208.70 1166.93 L208.74 1168.53 L208.78 1170.12 L208.82 1171.72 L208.86 1173.31 L208.89 1174.88 L208.93 1176.45 L208.97 1178.01 L209.01 1179.56 L209.05 1181.09 L209.08 1182.61 L209.12 1184.11 L209.15 1185.59 L209.19 1187.06 L209.22 1188.52 L209.25 1189.95 L209.29 1191.36 L209.32 1192.77 L209.35 1194.17 L209.38 1195.55 L209.41 1196.92 L209.44 1198.30 L209.47 1199.67 L209.50 1201.09 L209.54 1202.70 L209.57 1204.33 L209.61 1205.96 L209.65 1207.60 L209.68 1209.26 L209.72 1210.92 L209.76 1212.59 L209.79 1214.25 L209.83 1215.92 L209.87 1217.58 L209.90 1219.23 L209.94 1220.87 L209.97 1222.51 L210.01 1224.14 L210.05 1225.76 L210.08 1227.38 L210.11 1228.99 L210.15 1230.59 L210.18 1232.19 L210.22 1233.78 L210.25 1235.36 L210.28 1236.94 L210.31 1238.52 L210.34 1240.08 L210.37 1241.65 L210.40 1243.20 L210.43 1244.76 L210.46 1246.29 L210.49 1247.83 L210.51 1249.35 L210.54 1250.87 L210.56 1252.37 L210.59 1253.85 L210.61 1255.33 L210.63 1256.78 L210.65 1258.22 L210.66 1259.63 L210.68 1261.03 L210.69 1262.40 L210.71 1263.75 L210.72 1265.07 L210.73 1266.38 L210.73 1267.65 L210.74 1268.92 L210.74 1270.16 L210.74 1271.39 L210.74 1272.62 L210.74 1273.82 L210.73 1275.04 L210.73 1276.25 L210.72 1277.47 L210.70 1278.70 L210.68 1280.45 L210.64 1282.25 L210.61 1284.09 L210.56 1285.97 L210.51 1287.87 L210.45 1289.79 L210.39 1291.69 L210.33 1293.57 L210.27 1295.42 L210.21 1297.22 L210.15 1298.98 L210.09 1300.67 L210.05 1302.31 L210.01 1303.87 L209.97 1305.37 L209.93 1306.79 L209.88 1308.14 L209.84 1309.45 L209.81 1310.69 L209.79 1311.90 L209.77 1313.06 L209.77 1314.17 L209.77 1315.24 L209.78 1316.28 L209.80 1317.28 L209.84 1318.26 L209.93 1319.91 L210.08 1322.01 L210.26 1323.95 L210.44 1325.40 L210.71 1326.68 L211.13 1327.85 L211.80 1328.90 L212.88 1329.82 L214.17 1330.43 L215.64 1330.89 L217.43 1331.34 L219.29 1331.73 L220.69 1331.99 L221.93 1332.18 L223.22 1332.35 L224.59 1332.50 L226.06 1332.64 L227.63 1332.75 L229.26 1332.85 L230.93 1332.92 L232.62 1332.97 L234.30 1333.00 L235.99 1333.01 L237.45 1333.04 L238.80 1333.07 L240.18 1333.07 L241.59 1333.07 L243.02 1333.05 L244.48 1333.01 L245.96 1332.97 L247.48 1332.91 L249.01 1332.84 L250.57 1332.77 L252.15 1332.68 L253.75 1332.59 L255.36 1332.49 L256.97 1332.38 L258.58 1332.27 L260.17 1332.16 L261.76 1332.04 L263.32 1331.93 L264.84 1331.81 L266.31 1331.70 L267.77 1331.58 L269.22 1331.47 L270.66 1331.35 L272.09 1331.23 L273.53 1331.11 L274.97 1330.99 L276.41 1330.87 L277.88 1330.75 L279.36 1330.62 L280.86 1330.50 L282.38 1330.37 L283.91 1330.25 L285.47 1330.12 L287.04 1329.99 L288.63 1329.87 L290.23 1329.75 L291.84 1329.63 L293.46 1329.51 L294.93 1329.40 L296.30 1329.31 L297.66 1329.22 L299.02 1329.13 L300.37 1329.04 L301.73 1328.96 L303.08 1328.88 L304.45 1328.80 L305.82 1328.72 L307.20 1328.64 L308.59 1328.56 L310.01 1328.48 L311.44 1328.40 L312.91 1328.32 L314.39 1328.24 L315.90 1328.15 L317.45 1328.06 L319.02 1327.97 L320.62 1327.88 L322.25 1327.78 L323.91 1327.68 L325.59 1327.58 L327.29 1327.47 L329.00 1327.36 L330.72 1327.25 L332.44 1327.13 L334.15 1327.01 L335.71 1326.90 L336.99 1326.81 L338.29 1326.72 L339.59 1326.62 L340.91 1326.52 L342.25 1326.42 L343.59 1326.32 L344.96 1326.21 L346.36 1326.10 L347.77 1325.99 L349.22 1325.88 L350.69 1325.76 L352.19 1325.64 L353.72 1325.51 L355.27 1325.39 L356.84 1325.25 L358.43 1325.12 L360.03 1324.99 L361.65 1324.85 L363.28 1324.71 L364.91 1324.57 L366.57 1324.42 L368.21 1324.28 L369.87 1324.13 L371.52 1323.98 L373.17 1323.83 L374.83 1323.68 L376.47 1323.53 L378.12 1323.37 L379.76 1323.22 L381.38 1323.06 L383.00 1322.91 L384.60 1322.75 L386.19 1322.59 L387.75 1322.43 L389.29 1322.27 L390.81 1322.11 L392.31 1321.95 L393.78 1321.79 L395.22 1321.63 L396.63 1321.48 L398.02 1321.32 L399.38 1321.16 L400.72 1321.00 L402.05 1320.83 L403.37 1320.67 L404.67 1320.50 L405.96 1320.34 L407.23 1320.17 L408.79 1319.95 L410.48 1319.71 L412.17 1319.47 L413.85 1319.22 L415.51 1318.97 L417.16 1318.71 L418.79 1318.45 L420.38 1318.19 L421.95 1317.94 L423.48 1317.68 L424.98 1317.43 L426.46 1317.17 L427.91 1316.92 L429.34 1316.68 L430.75 1316.44 L432.15 1316.20 L433.54 1315.96 L434.92 1315.72 L436.31 1315.49 L437.69 1315.26 L439.06 1315.04 L440.45 1314.81 L441.84 1314.59 L443.25 1314.38 L444.68 1314.16 L446.12 1313.95 L447.58 1313.74 L449.08 1313.53 L450.60 1313.32 L452.13 1313.12 L453.65 1312.93 L455.18 1312.74 L456.70 1312.55 L458.20 1312.38 L459.68 1312.21 L461.14 1312.04 L462.66 1311.87 L464.18 1311.70 L465.69 1311.53 L467.19 1311.38 L468.69 1311.22 L470.18 1311.07 L471.68 1310.93 L473.18 1310.78 L474.68 1310.64 L476.18 1310.49 L477.68 1310.35 L479.19 1310.20 L480.69 1310.06 L482.19 1309.91 L483.69 1309.76 L485.20 1309.60 L486.20 1309.50" fill="none" stroke="#3083f9" stroke-width="3.5" stroke-linejoin="round" stroke-linecap="butt"/>
<line x1="386" y1="826.3" x2="305" y2="832.5" stroke="#3083f9" stroke-width="3.5"/>
<path d="M291.3 833.9 L314.1 823.7 L310.5 832.8 L316.8 841.4 Z" fill="#3083f9"/>
<circle cx="205.6" cy="1039.8" r="7.1" fill="#fff" stroke="#3083f9" stroke-width="2.9"/>
<circle cx="486.2" cy="1309.5" r="8" fill="#3083f9"/>
<path d="M713.50 1331.50 L714.59 1330.42 L715.70 1329.35 L716.80 1328.29 L717.90 1327.23 L718.99 1326.16 L720.07 1325.06 L721.14 1323.94 L722.20 1322.81 L723.24 1321.65 L724.26 1320.48 L725.24 1319.31 L726.21 1318.10 L727.18 1316.86 L728.12 1315.59 L729.03 1314.29 L729.92 1313.05 L730.83 1311.87 L731.75 1310.63 L732.65 1309.38 L733.51 1308.12 L734.30 1306.89 L735.04 1305.71 L735.72 1304.53 L736.36 1303.36 L736.97 1302.17 L737.58 1300.92 L738.18 1299.60 L738.80 1298.20 L739.42 1296.72 L740.08 1295.16 L740.76 1293.55 L741.32 1292.27 L741.80 1291.13 L742.30 1289.97 L742.81 1288.77 L743.34 1287.53 L743.87 1286.26 L744.42 1284.97 L744.97 1283.63 L745.54 1282.27 L746.11 1280.88 L746.69 1279.46 L747.28 1278.00 L747.87 1276.53 L748.46 1275.01 L749.06 1273.49 L749.65 1271.95 L750.23 1270.40 L750.81 1268.85 L751.37 1267.31 L751.92 1265.77 L752.46 1264.24 L752.98 1262.72 L753.48 1261.24 L753.97 1259.77 L754.44 1258.32 L754.90 1256.90 L755.36 1255.44 L755.81 1253.99 L756.24 1252.55 L756.68 1251.11 L757.09 1249.69 L757.50 1248.27 L757.91 1246.84 L758.32 1245.42 L758.74 1244.01 L759.16 1242.59 L759.57 1241.18 L759.97 1239.77 L760.37 1238.35 L760.76 1236.93 L761.15 1235.50 L761.54 1234.07 L761.92 1232.63 L762.30 1231.18 L762.68 1229.72 L763.06 1228.24 L763.43 1226.76 L763.80 1225.27 L764.16 1223.76 L764.52 1222.28 L764.86 1220.86 L765.20 1219.42 L765.53 1217.97 L765.87 1216.50 L766.20 1215.03 L766.54 1213.53 L766.87 1212.03 L767.20 1210.51 L767.53 1209.00 L767.86 1207.46 L768.18 1205.93 L768.50 1204.40 L768.82 1202.86 L769.14 1201.32 L769.45 1199.78 L769.76 1198.25 L770.07 1196.72 L770.37 1195.20 L770.66 1193.69 L770.96 1192.19 L771.25 1190.70 L771.53 1189.23 L771.81 1187.76 L772.08 1186.32 L772.35 1184.88 L772.62 1183.48 L772.88 1182.08 L773.14 1180.64 L773.43 1179.09 L773.71 1177.58 L773.97 1176.10 L774.23 1174.65 L774.49 1173.23 L774.74 1171.82 L774.98 1170.43 L775.23 1169.05 L775.47 1167.66 L775.71 1166.29 L775.94 1164.90 L776.18 1163.50 L776.42 1162.09 L776.66 1160.67 L776.90 1159.21 L777.15 1157.72 L777.39 1156.20 L777.65 1154.64 L777.90 1153.04 L778.16 1151.39 L778.41 1149.84 L778.60 1148.60 L778.79 1147.33 L778.99 1146.03 L779.20 1144.70 L779.40 1143.34 L779.61 1141.96 L779.82 1140.54 L780.03 1139.10 L780.24 1137.64 L780.46 1136.15 L780.67 1134.64 L780.89 1133.12 L781.11 1131.57 L781.33 1130.00 L781.55 1128.41 L781.77 1126.81 L782.00 1125.19 L782.22 1123.55 L782.44 1121.92 L782.66 1120.28 L782.88 1118.63 L783.11 1116.97 L783.33 1115.32 L783.54 1113.67 L783.76 1112.03 L783.98 1110.39 L784.19 1108.76 L784.40 1107.15 L784.61 1105.55 L784.82 1103.97 L785.02 1102.40 L785.23 1100.84 L785.42 1099.32 L785.62 1097.82 L785.81 1096.33 L786.00 1094.87 L786.19 1093.43 L786.37 1092.03 L786.55 1090.64 L786.72 1089.29 L786.89 1087.95 L787.09 1086.41 L787.30 1084.77 L787.50 1083.18 L787.70 1081.60 L787.90 1080.06 L788.09 1078.54 L788.28 1077.04 L788.47 1075.56 L788.66 1074.10 L788.84 1072.64 L789.02 1071.21 L789.20 1069.78 L789.37 1068.37 L789.55 1066.95 L789.73 1065.54 L789.90 1064.12 L790.07 1062.71 L790.25 1061.29 L790.42 1059.87 L790.60 1058.44 L790.77 1057.00 L790.95 1055.54 L791.12 1054.07 L791.30 1052.57 L791.48 1051.07 L791.66 1049.58 L791.82 1048.16 L791.99 1046.74 L792.15 1045.32 L792.32 1043.89 L792.49 1042.46 L792.65 1041.02 L792.82 1039.58 L792.98 1038.13 L793.15 1036.67 L793.31 1035.21 L793.48 1033.74 L793.64 1032.27 L793.81 1030.78 L793.98 1029.29 L794.14 1027.80 L794.31 1026.30 L794.48 1024.79 L794.64 1023.28 L794.81 1021.76 L794.98 1020.23 L795.15 1018.70 L795.32 1017.16 L795.49 1015.62 L795.66 1014.08 L795.83 1012.52 L796.00 1010.97 L796.17 1009.40 L796.34 1007.84 L796.51 1006.27 L796.68 1004.75 L796.83 1003.33 L796.99 1001.90 L797.15 1000.46 L797.30 999.03 L797.46 997.58 L797.62 996.13 L797.78 994.67 L797.94 993.21 L798.10 991.75 L798.26 990.28 L798.42 988.80 L798.58 987.33 L798.74 985.84 L798.90 984.36 L799.06 982.86 L799.22 981.37 L799.38 979.86 L799.54 978.37 L799.69 976.87 L799.85 975.36 L800.01 973.85 L800.16 972.34 L800.32 970.83 L800.47 969.31 L800.62 967.79 L800.78 966.28 L800.93 964.76 L801.07 963.25 L801.22 961.73 L801.36 960.21 L801.51 958.69 L801.65 957.18 L801.79 955.66 L801.92 954.15 L802.06 952.64 L802.19 951.13 L802.32 949.62 L802.45 948.09 L802.58 946.55 L802.71 945.01 L802.83 943.45 L802.96 941.88 L803.09 940.30 L803.21 938.72 L803.33 937.13 L803.45 935.54 L803.57 933.95 L803.69 932.35 L803.81 930.75 L803.93 929.16 L804.04 927.57 L804.16 925.97 L804.27 924.39 L804.39 922.82 L804.50 921.25 L804.61 919.69 L804.72 918.13 L804.83 916.59 L804.94 915.07 L805.06 913.55 L805.17 912.05 L805.28 910.56 L805.38 909.09 L805.50 907.62 L805.61 906.18 L805.72 904.74 L805.83 903.33 L805.94 901.92 L806.05 900.54 L806.16 899.17 L806.27 897.82 L806.38 896.48 L806.49 895.17 L806.62 893.62 L806.77 891.97 L806.91 890.35 L807.05 888.75 L807.20 887.17 L807.34 885.61 L807.49 884.07 L807.63 882.55 L807.78 881.06 L807.92 879.57 L808.07 878.09 L808.22 876.63 L808.36 875.17 L808.51 873.72 L808.66 872.29 L808.81 870.86 L808.96 869.44 L809.11 868.02 L809.26 866.62 L809.41 865.21 L809.57 863.79 L809.73 862.34 L809.89 860.82 L810.07 859.26 L810.24 857.72 L810.42 856.18 L810.59 854.64 L810.77 853.11 L810.94 851.57 L811.11 850.04 L811.29 848.52 L811.46 847.00 L811.63 845.48 L811.81 843.99 L811.98 842.50 L812.15 841.01 L812.33 839.53 L812.50 838.06 L812.67 836.60 L812.84 835.16 L813.02 833.67 L813.20 832.05 L813.40 830.41 L813.59 828.75 L813.78 827.08 L813.97 825.42 L814.16 823.76 L814.34 822.13 L814.52 820.57 L814.68 819.08 L814.84 817.66 L814.99 816.34 L815.14 815.07 L815.28 813.87 L815.41 812.72 L815.62 810.97 L815.92 808.47 L816.18 806.30 L816.39 804.68 L816.57 803.65 L816.80 803.20 L817.10 803.75 L817.36 804.99 L817.66 807.03 L817.89 809.66 L817.94 811.04 L817.95 812.07 L817.94 813.18 L817.91 814.36 L817.86 815.63 L817.80 816.98 L817.73 818.43 L817.64 819.98 L817.54 821.62 L817.44 823.32 L817.34 825.07 L817.24 826.82 L817.15 828.56 L817.05 830.28 L816.96 831.97 L816.88 833.64 L816.80 835.11 L816.73 836.52 L816.65 837.96 L816.58 839.41 L816.50 840.88 L816.43 842.37 L816.35 843.87 L816.27 845.38 L816.19 846.91 L816.11 848.44 L816.03 849.99 L815.94 851.54 L815.86 853.09 L815.78 854.63 L815.70 856.16 L815.61 857.71 L815.53 859.24 L815.45 860.78 L815.36 862.32 L815.27 863.87 L815.19 865.39 L815.10 866.89 L815.02 868.38 L814.93 869.86 L814.84 871.34 L814.76 872.81 L814.67 874.26 L814.59 875.71 L814.50 877.15 L814.41 878.60 L814.32 880.04 L814.24 881.49 L814.15 882.93 L814.06 884.39 L813.97 885.85 L813.88 887.32 L813.79 888.81 L813.70 890.31 L813.61 891.81 L813.52 893.34 L813.42 894.89 L813.33 896.47 L813.23 898.06 L813.13 899.68 L813.05 901.12 L812.97 902.47 L812.89 903.84 L812.81 905.22 L812.72 906.62 L812.64 908.04 L812.56 909.45 L812.47 910.89 L812.39 912.34 L812.31 913.80 L812.22 915.27 L812.13 916.76 L812.05 918.25 L811.96 919.76 L811.87 921.28 L811.78 922.80 L811.69 924.33 L811.59 925.88 L811.50 927.44 L811.40 928.99 L811.31 930.56 L811.21 932.13 L811.11 933.70 L811.01 935.28 L810.90 936.86 L810.80 938.44 L810.69 940.02 L810.58 941.61 L810.47 943.19 L810.35 944.76 L810.24 946.33 L810.12 947.90 L810.00 949.46 L809.88 950.97 L809.77 952.46 L809.65 953.95 L809.53 955.45 L809.40 956.96 L809.27 958.47 L809.14 959.98 L809.01 961.50 L808.88 963.03 L808.74 964.56 L808.61 966.09 L808.47 967.63 L808.32 969.17 L808.18 970.71 L808.04 972.25 L807.89 973.79 L807.75 975.33 L807.60 976.87 L807.46 978.41 L807.31 979.95 L807.16 981.49 L807.02 983.03 L806.87 984.56 L806.73 986.08 L806.58 987.60 L806.44 989.12 L806.30 990.63 L806.16 992.13 L806.02 993.63 L805.88 995.12 L805.74 996.61 L805.61 998.08 L805.47 999.55 L805.34 1001.00 L805.21 1002.46 L805.09 1003.90 L804.96 1005.33 L804.82 1006.90 L804.69 1008.46 L804.56 1010.01 L804.43 1011.55 L804.30 1013.08 L804.17 1014.59 L804.05 1016.10 L803.92 1017.60 L803.80 1019.10 L803.68 1020.58 L803.56 1022.06 L803.44 1023.54 L803.32 1025.02 L803.20 1026.49 L803.08 1027.95 L802.97 1029.42 L802.85 1030.89 L802.73 1032.35 L802.61 1033.82 L802.49 1035.29 L802.37 1036.77 L802.24 1038.25 L802.12 1039.74 L801.99 1041.24 L801.87 1042.74 L801.74 1044.25 L801.61 1045.77 L801.47 1047.30 L801.34 1048.84 L801.20 1050.36 L801.07 1051.82 L800.94 1053.28 L800.80 1054.74 L800.67 1056.22 L800.53 1057.71 L800.39 1059.19 L800.24 1060.69 L800.10 1062.19 L799.95 1063.69 L799.80 1065.20 L799.65 1066.72 L799.50 1068.23 L799.35 1069.75 L799.19 1071.28 L799.03 1072.80 L798.87 1074.33 L798.71 1075.85 L798.55 1077.38 L798.39 1078.91 L798.22 1080.44 L798.06 1081.97 L797.89 1083.50 L797.72 1085.03 L797.55 1086.55 L797.38 1088.08 L797.21 1089.61 L797.04 1091.13 L796.86 1092.65 L796.69 1094.16 L796.51 1095.67 L796.34 1097.18 L796.16 1098.68 L795.99 1100.18 L795.81 1101.68 L795.63 1103.22 L795.44 1104.77 L795.26 1106.32 L795.07 1107.88 L794.88 1109.44 L794.69 1111.02 L794.49 1112.59 L794.30 1114.16 L794.10 1115.74 L793.91 1117.31 L793.71 1118.88 L793.52 1120.44 L793.32 1122.00 L793.13 1123.56 L792.93 1125.11 L792.73 1126.66 L792.54 1128.19 L792.34 1129.71 L792.15 1131.23 L791.96 1132.73 L791.77 1134.23 L791.58 1135.71 L791.39 1137.17 L791.20 1138.63 L791.01 1140.07 L790.82 1141.50 L790.64 1142.90 L790.46 1144.30 L790.28 1145.68 L790.10 1147.04 L789.92 1148.38 L789.74 1149.71 L789.54 1151.23 L789.33 1152.81 L789.12 1154.37 L788.91 1155.89 L788.71 1157.39 L788.50 1158.86 L788.30 1160.31 L788.10 1161.75 L787.90 1163.17 L787.69 1164.58 L787.49 1165.99 L787.28 1167.40 L787.07 1168.81 L786.86 1170.22 L786.64 1171.64 L786.42 1173.08 L786.19 1174.53 L785.96 1176.00 L785.71 1177.50 L785.46 1179.02 L785.20 1180.57 L784.96 1182.01 L784.71 1183.40 L784.47 1184.81 L784.21 1186.23 L783.95 1187.66 L783.68 1189.11 L783.41 1190.58 L783.13 1192.05 L782.84 1193.53 L782.55 1195.03 L782.24 1196.53 L781.94 1198.04 L781.62 1199.56 L781.30 1201.08 L780.98 1202.61 L780.65 1204.13 L780.31 1205.66 L779.97 1207.19 L779.63 1208.71 L779.28 1210.24 L778.92 1211.76 L778.57 1213.27 L778.20 1214.78 L777.84 1216.28 L777.48 1217.77 L777.11 1219.26 L776.74 1220.72 L776.36 1222.18 L775.98 1223.65 L775.59 1225.13 L775.20 1226.61 L774.80 1228.09 L774.40 1229.56 L773.99 1231.02 L773.58 1232.48 L773.17 1233.94 L772.75 1235.39 L772.32 1236.85 L771.89 1238.30 L771.45 1239.75 L771.01 1241.18 L770.57 1242.62 L770.11 1244.06 L769.65 1245.50 L769.19 1246.92 L768.72 1248.35 L768.24 1249.77 L767.75 1251.20 L767.26 1252.62 L766.76 1254.04 L766.25 1255.45 L765.73 1256.87 L765.21 1258.28 L764.68 1259.69 L764.14 1261.10 L763.55 1262.60 L762.94 1264.14 L762.31 1265.69 L761.65 1267.28 L760.98 1268.87 L760.30 1270.46 L759.59 1272.05 L758.88 1273.64 L758.15 1275.21 L757.42 1276.76 L756.68 1278.28 L755.95 1279.76 L755.21 1281.22 L754.48 1282.62 L753.75 1283.98 L753.03 1285.29 L752.33 1286.55 L751.64 1287.74 L750.98 1288.87 L750.35 1289.93 L749.74 1290.94 L749.15 1291.88 L748.61 1292.75 L748.09 1293.55 L747.19 1294.95 L746.43 1296.21 L745.73 1297.34 L745.05 1298.40 L744.33 1299.49 L743.53 1300.67 L742.74 1301.81 L741.91 1302.96 L741.02 1304.15 L740.10 1305.36 L739.12 1306.60 L738.09 1307.87 L737.02 1309.15 L735.91 1310.45 L734.92 1311.59 L733.90 1312.75 L732.85 1313.91 L731.79 1315.06 L730.73 1316.19 L729.66 1317.31 L728.59 1318.41 L727.52 1319.50 L726.44 1320.57 L725.37 1321.62 L724.28 1322.68 L723.19 1323.73 L722.10 1324.78 L721.02 1325.82 L719.93 1326.85 L718.85 1327.88 L717.76 1328.91 L716.68 1329.94 L715.59 1330.97 L714.50 1332.00 L714.50 1332.00" fill="none" stroke="#b6c432" stroke-width="3.5" stroke-linejoin="round" stroke-linecap="butt"/>
<line x1="787.6" y1="822.6" x2="782.5" y2="885" stroke="#b6c432" stroke-width="3.5"/>
<path d="M781.5 901.4 L774.3 876.1 L783.0 880.0 L792.6 877.7 Z" fill="#b6c432"/>
<circle cx="791.7" cy="1050.0" r="6.6" fill="#fff" stroke="#b6c432" stroke-width="2.5"/>
<circle cx="743.9" cy="1301.4" r="8" fill="#b6c432"/>
<path d="M916.00 1291.50 L917.34 1290.81 L918.69 1290.12 L920.04 1289.43 L921.40 1288.74 L922.76 1288.06 L924.14 1287.36 L925.51 1286.67 L926.88 1285.97 L928.24 1285.27 L929.61 1284.56 L930.96 1283.84 L932.31 1283.11 L933.66 1282.37 L934.98 1281.63 L936.28 1280.89 L937.56 1280.15 L938.83 1279.40 L940.08 1278.65 L941.40 1277.85 L942.69 1277.06 L943.95 1276.28 L945.18 1275.51 L946.40 1274.74 L947.61 1273.97 L948.82 1273.20 L950.02 1272.43 L951.23 1271.65 L952.46 1270.86 L953.70 1270.06 L954.98 1269.23 L956.29 1268.38 L957.65 1267.49 L959.07 1266.57 L960.35 1265.72 L961.29 1265.11 L962.26 1264.47 L963.25 1263.82 L964.26 1263.15 L965.30 1262.46 L966.36 1261.75 L967.44 1261.03 L968.55 1260.29 L969.67 1259.54 L970.78 1258.80 L971.91 1258.05 L973.07 1257.28 L974.25 1256.49 L975.45 1255.69 L976.67 1254.87 L977.91 1254.03 L979.16 1253.18 L980.45 1252.31 L981.76 1251.42 L983.07 1250.52 L984.40 1249.62 L985.74 1248.69 L987.09 1247.76 L988.45 1246.82 L989.80 1245.88 L991.16 1244.93 L992.53 1243.96 L993.90 1243.00 L995.27 1242.03 L996.63 1241.06 L997.99 1240.09 L999.35 1239.12 L1000.69 1238.15 L1002.03 1237.18 L1003.35 1236.21 L1004.68 1235.24 L1005.98 1234.28 L1007.27 1233.33 L1008.54 1232.38 L1009.81 1231.44 L1011.04 1230.52 L1012.23 1229.62 L1013.42 1228.71 L1014.62 1227.80 L1015.81 1226.89 L1017.00 1225.97 L1018.19 1225.05 L1019.37 1224.14 L1020.55 1223.21 L1021.74 1222.28 L1022.93 1221.34 L1024.11 1220.41 L1025.29 1219.47 L1026.46 1218.53 L1027.64 1217.58 L1028.81 1216.64 L1029.98 1215.69 L1031.16 1214.73 L1032.32 1213.78 L1033.49 1212.82 L1034.65 1211.86 L1035.81 1210.90 L1036.97 1209.94 L1038.14 1208.97 L1039.29 1208.00 L1040.45 1207.03 L1041.60 1206.06 L1042.75 1205.08 L1043.90 1204.11 L1045.04 1203.13 L1046.18 1202.15 L1047.32 1201.18 L1048.46 1200.20 L1049.59 1199.22 L1050.72 1198.24 L1051.85 1197.25 L1052.97 1196.28 L1054.09 1195.30 L1055.20 1194.32 L1056.31 1193.34 L1057.42 1192.36 L1058.52 1191.38 L1059.61 1190.41 L1060.71 1189.43 L1061.82 1188.44 L1062.97 1187.41 L1064.12 1186.37 L1065.26 1185.33 L1066.40 1184.30 L1067.54 1183.26 L1068.68 1182.22 L1069.82 1181.18 L1070.95 1180.14 L1072.08 1179.09 L1073.20 1178.05 L1074.32 1177.01 L1075.43 1175.97 L1076.54 1174.93 L1077.64 1173.89 L1078.74 1172.85 L1079.84 1171.81 L1080.93 1170.77 L1082.02 1169.73 L1083.10 1168.69 L1084.18 1167.64 L1085.25 1166.60 L1086.32 1165.56 L1087.39 1164.51 L1088.45 1163.47 L1089.50 1162.43 L1090.55 1161.38 L1091.60 1160.33 L1092.64 1159.29 L1093.68 1158.24 L1094.71 1157.19 L1095.73 1156.14 L1096.76 1155.09 L1097.78 1154.03 L1098.79 1152.98 L1099.80 1151.92 L1100.81 1150.86 L1101.82 1149.80 L1102.81 1148.74 L1103.82 1147.66 L1104.87 1146.53 L1105.91 1145.40 L1106.95 1144.26 L1107.99 1143.13 L1109.02 1141.99 L1110.04 1140.84 L1111.06 1139.70 L1112.08 1138.55 L1113.10 1137.39 L1114.10 1136.24 L1115.10 1135.08 L1116.10 1133.92 L1117.08 1132.76 L1118.07 1131.59 L1119.05 1130.43 L1120.02 1129.26 L1120.98 1128.10 L1121.94 1126.93 L1122.89 1125.76 L1123.82 1124.59 L1124.76 1123.42 L1125.69 1122.24 L1126.61 1121.07 L1127.53 1119.89 L1128.44 1118.71 L1129.35 1117.52 L1130.25 1116.34 L1131.14 1115.15 L1132.02 1113.96 L1132.90 1112.77 L1133.78 1111.58 L1134.65 1110.39 L1135.51 1109.19 L1136.36 1107.99 L1137.24 1106.77 L1138.15 1105.47 L1139.06 1104.17 L1139.98 1102.85 L1140.89 1101.52 L1141.81 1100.18 L1142.72 1098.84 L1143.63 1097.50 L1144.54 1096.15 L1145.44 1094.79 L1146.34 1093.45 L1147.23 1092.09 L1148.12 1090.75 L1149.00 1089.41 L1149.87 1088.08 L1150.74 1086.76 L1151.59 1085.45 L1152.43 1084.15 L1153.26 1082.87 L1154.08 1081.61 L1154.89 1080.36 L1155.69 1079.12 L1156.47 1077.91 L1157.24 1076.72 L1157.99 1075.55 L1158.73 1074.39 L1159.45 1073.27 L1160.16 1072.17 L1160.85 1071.09 L1161.52 1070.04 L1162.18 1069.01 L1163.10 1067.56 L1163.97 1066.19 L1164.81 1064.87 L1165.61 1063.60 L1166.39 1062.36 L1167.14 1061.15 L1167.89 1059.96 L1168.62 1058.77 L1169.36 1057.58 L1170.09 1056.38 L1170.84 1055.16 L1171.60 1053.90 L1172.39 1052.59 L1173.20 1051.24 L1173.94 1049.99 L1174.64 1048.79 L1175.37 1047.56 L1176.10 1046.29 L1176.84 1044.99 L1177.59 1043.67 L1178.35 1042.33 L1179.11 1040.97 L1179.87 1039.59 L1180.63 1038.20 L1181.39 1036.81 L1182.14 1035.41 L1182.88 1034.02 L1183.61 1032.63 L1184.33 1031.25 L1185.04 1029.88 L1185.73 1028.53 L1186.40 1027.21 L1187.05 1025.91 L1187.69 1024.64 L1188.30 1023.41 L1188.95 1022.11 L1189.66 1020.65 L1190.35 1019.26 L1191.00 1017.90 L1191.64 1016.59 L1192.26 1015.29 L1192.88 1014.01 L1193.49 1012.73 L1194.11 1011.44 L1194.73 1010.13 L1195.37 1008.79 L1196.03 1007.40 L1196.71 1005.95 L1197.42 1004.45 L1197.99 1003.25 L1198.57 1002.02 L1199.16 1000.76 L1199.77 999.47 L1200.39 998.16 L1201.02 996.82 L1201.66 995.47 L1202.31 994.09 L1202.97 992.70 L1203.64 991.29 L1204.32 989.87 L1205.00 988.44 L1205.68 987.00 L1206.37 985.56 L1207.06 984.12 L1207.76 982.66 L1208.45 981.22 L1209.14 979.78 L1209.83 978.34 L1210.52 976.91 L1211.20 975.50 L1211.88 974.10 L1212.55 972.71 L1213.21 971.34 L1213.87 969.97 L1214.53 968.60 L1215.20 967.24 L1215.86 965.87 L1216.52 964.50 L1217.18 963.14 L1217.83 961.78 L1218.49 960.42 L1219.15 959.05 L1219.81 957.69 L1220.46 956.33 L1221.11 954.97 L1221.76 953.61 L1222.41 952.26 L1223.06 950.90 L1223.71 949.55 L1224.35 948.20 L1225.00 946.84 L1225.64 945.49 L1226.28 944.14 L1226.92 942.79 L1227.56 941.44 L1228.20 940.07 L1228.85 938.70 L1229.49 937.33 L1230.13 935.96 L1230.78 934.58 L1231.42 933.21 L1232.06 931.84 L1232.70 930.48 L1233.34 929.11 L1233.98 927.74 L1234.61 926.37 L1235.25 924.99 L1235.89 923.62 L1236.53 922.24 L1237.17 920.87 L1237.81 919.49 L1238.45 918.12 L1239.09 916.74 L1239.72 915.37 L1240.36 913.99 L1241.00 912.61 L1241.64 911.22 L1242.27 909.86 L1242.90 908.49 L1243.54 907.11 L1244.17 905.73 L1244.81 904.34 L1245.44 902.96 L1246.07 901.57 L1246.71 900.17 L1247.34 898.78 L1247.97 897.39 L1248.59 895.99 L1249.21 894.60 L1249.83 893.21 L1250.44 891.82 L1251.05 890.44 L1251.66 889.05 L1252.25 887.68 L1252.85 886.30 L1253.43 884.94 L1254.01 883.57 L1254.59 882.22 L1255.16 880.87 L1255.72 879.53 L1256.33 878.08 L1256.93 876.63 L1257.52 875.19 L1258.12 873.76 L1258.71 872.32 L1259.30 870.87 L1259.89 869.43 L1260.48 867.99 L1261.07 866.57 L1261.65 865.15 L1262.22 863.75 L1262.80 862.35 L1263.37 860.96 L1263.95 859.59 L1264.52 858.23 L1265.07 856.86 L1265.61 855.51 L1266.15 854.15 L1266.68 852.82 L1267.23 851.45 L1267.81 849.99 L1268.38 848.55 L1268.95 847.12 L1269.53 845.71 L1270.10 844.32 L1270.67 842.93 L1271.25 841.56 L1271.83 840.20 L1272.43 838.85 L1273.03 837.50 L1273.64 836.16 L1274.27 834.83 L1274.90 833.51 L1275.55 832.18 L1276.21 830.85 L1276.90 829.48 L1277.63 828.07 L1278.38 826.63 L1279.15 825.18 L1279.93 823.72 L1280.70 822.27 L1281.49 820.82 L1282.26 819.41 L1283.01 818.04 L1283.75 816.74 L1284.46 815.51 L1285.15 814.35 L1285.83 813.25 L1286.50 812.21 L1287.30 811.03 L1288.54 809.33 L1289.98 807.49 L1291.26 805.99 L1292.36 804.86 L1293.33 804.10 L1294.15 803.78 L1294.91 804.12 L1295.45 805.09 L1295.90 806.58 L1296.23 808.68 L1296.38 810.88 L1296.36 812.21 L1296.29 813.29 L1296.16 814.43 L1295.99 815.64 L1295.77 816.94 L1295.50 818.33 L1295.19 819.82 L1294.84 821.38 L1294.45 823.00 L1294.04 824.64 L1293.62 826.29 L1293.17 827.92 L1292.72 829.55 L1292.26 831.15 L1291.81 832.65 L1291.40 834.03 L1290.96 835.44 L1290.51 836.88 L1290.05 838.34 L1289.58 839.82 L1289.10 841.32 L1288.61 842.83 L1288.11 844.34 L1287.60 845.86 L1287.10 847.36 L1286.59 848.87 L1286.09 850.37 L1285.58 851.84 L1285.08 853.30 L1284.58 854.74 L1284.09 856.15 L1283.60 857.52 L1283.12 858.88 L1282.65 860.19 L1282.11 861.68 L1281.59 863.12 L1281.09 864.53 L1280.62 865.90 L1280.15 867.23 L1279.68 868.57 L1279.20 869.89 L1278.72 871.22 L1278.24 872.56 L1277.74 873.93 L1277.22 875.33 L1276.69 876.76 L1276.14 878.22 L1275.57 879.74 L1275.10 880.97 L1274.61 882.24 L1274.12 883.52 L1273.60 884.85 L1273.08 886.18 L1272.55 887.53 L1272.01 888.91 L1271.46 890.29 L1270.90 891.70 L1270.33 893.11 L1269.75 894.53 L1269.17 895.97 L1268.58 897.41 L1267.99 898.85 L1267.40 900.29 L1266.80 901.74 L1266.19 903.19 L1265.59 904.63 L1264.98 906.08 L1264.37 907.52 L1263.77 908.94 L1263.17 910.35 L1262.57 911.75 L1261.97 913.16 L1261.36 914.57 L1260.76 915.97 L1260.15 917.37 L1259.54 918.78 L1258.92 920.18 L1258.31 921.58 L1257.69 922.98 L1257.08 924.38 L1256.46 925.78 L1255.84 927.18 L1255.21 928.57 L1254.59 929.98 L1253.97 931.36 L1253.34 932.76 L1252.71 934.15 L1252.08 935.54 L1251.45 936.93 L1250.82 938.32 L1250.19 939.71 L1249.55 941.09 L1248.92 942.47 L1248.29 943.84 L1247.66 945.22 L1247.02 946.59 L1246.38 947.96 L1245.75 949.33 L1245.11 950.70 L1244.46 952.08 L1243.82 953.45 L1243.18 954.82 L1242.54 956.19 L1241.89 957.56 L1241.25 958.93 L1240.60 960.29 L1239.95 961.66 L1239.30 963.03 L1238.65 964.40 L1238.00 965.77 L1237.35 967.13 L1236.69 968.50 L1236.04 969.87 L1235.39 971.23 L1234.73 972.60 L1234.07 973.97 L1233.42 975.33 L1232.76 976.69 L1232.10 978.06 L1231.44 979.43 L1230.78 980.79 L1230.12 982.16 L1229.45 983.52 L1228.79 984.89 L1228.12 986.26 L1227.45 987.63 L1226.79 989.00 L1226.12 990.37 L1225.45 991.74 L1224.78 993.11 L1224.11 994.48 L1223.44 995.85 L1222.76 997.22 L1222.09 998.60 L1221.41 999.98 L1220.74 1001.36 L1220.06 1002.73 L1219.38 1004.11 L1218.71 1005.49 L1218.03 1006.87 L1217.35 1008.26 L1216.66 1009.66 L1215.97 1011.06 L1215.29 1012.46 L1214.60 1013.87 L1213.91 1015.27 L1213.22 1016.69 L1212.54 1018.09 L1211.85 1019.50 L1211.17 1020.90 L1210.50 1022.30 L1209.82 1023.68 L1209.15 1025.07 L1208.49 1026.45 L1207.83 1027.80 L1207.18 1029.15 L1206.54 1030.49 L1205.90 1031.82 L1205.26 1033.13 L1204.64 1034.43 L1204.02 1035.69 L1203.33 1037.12 L1202.64 1038.53 L1201.96 1039.93 L1201.29 1041.31 L1200.61 1042.68 L1199.94 1044.04 L1199.27 1045.39 L1198.60 1046.72 L1197.93 1048.04 L1197.27 1049.35 L1196.61 1050.64 L1195.94 1051.93 L1195.28 1053.21 L1194.61 1054.47 L1193.95 1055.73 L1193.28 1056.98 L1192.60 1058.22 L1191.91 1059.49 L1191.19 1060.79 L1190.48 1062.07 L1189.77 1063.33 L1189.06 1064.59 L1188.34 1065.84 L1187.63 1067.08 L1186.90 1068.32 L1186.16 1069.57 L1185.42 1070.82 L1184.67 1072.07 L1183.90 1073.34 L1183.12 1074.63 L1182.33 1075.92 L1181.52 1077.24 L1180.69 1078.57 L1179.91 1079.81 L1179.16 1081.01 L1178.41 1082.20 L1177.64 1083.41 L1176.86 1084.63 L1176.08 1085.86 L1175.28 1087.09 L1174.48 1088.34 L1173.67 1089.60 L1172.85 1090.85 L1172.02 1092.13 L1171.18 1093.41 L1170.34 1094.70 L1169.48 1096.00 L1168.62 1097.31 L1167.75 1098.63 L1166.87 1099.96 L1165.99 1101.29 L1165.09 1102.62 L1164.19 1103.97 L1163.28 1105.32 L1162.45 1106.55 L1161.66 1107.71 L1160.87 1108.88 L1160.06 1110.07 L1159.25 1111.25 L1158.43 1112.45 L1157.60 1113.65 L1156.76 1114.85 L1155.92 1116.07 L1155.07 1117.29 L1154.21 1118.51 L1153.34 1119.74 L1152.47 1120.97 L1151.59 1122.20 L1150.70 1123.44 L1149.81 1124.68 L1148.90 1125.93 L1148.00 1127.17 L1147.08 1128.42 L1146.17 1129.66 L1145.24 1130.91 L1144.31 1132.16 L1143.37 1133.42 L1142.43 1134.66 L1141.49 1135.91 L1140.54 1137.15 L1139.58 1138.40 L1138.63 1139.64 L1137.66 1140.87 L1136.75 1142.04 L1135.85 1143.18 L1134.95 1144.32 L1134.05 1145.46 L1133.13 1146.60 L1132.21 1147.74 L1131.28 1148.89 L1130.35 1150.03 L1129.41 1151.18 L1128.47 1152.32 L1127.52 1153.46 L1126.56 1154.60 L1125.59 1155.75 L1124.62 1156.89 L1123.64 1158.03 L1122.66 1159.16 L1121.68 1160.30 L1120.68 1161.44 L1119.68 1162.57 L1118.67 1163.71 L1117.66 1164.84 L1116.64 1165.96 L1115.62 1167.09 L1114.59 1168.21 L1113.56 1169.33 L1112.51 1170.45 L1111.47 1171.56 L1110.42 1172.67 L1109.36 1173.77 L1108.31 1174.86 L1107.24 1175.95 L1106.18 1177.04 L1105.11 1178.12 L1104.03 1179.20 L1102.96 1180.26 L1101.91 1181.29 L1100.85 1182.32 L1099.79 1183.35 L1098.72 1184.38 L1097.64 1185.40 L1096.56 1186.42 L1095.48 1187.43 L1094.39 1188.43 L1093.30 1189.44 L1092.19 1190.44 L1091.08 1191.44 L1089.96 1192.44 L1088.84 1193.44 L1087.71 1194.43 L1086.58 1195.41 L1085.44 1196.40 L1084.30 1197.38 L1083.15 1198.35 L1081.99 1199.33 L1080.83 1200.30 L1079.66 1201.26 L1078.49 1202.22 L1077.31 1203.18 L1076.12 1204.14 L1074.93 1205.10 L1073.73 1206.05 L1072.53 1206.99 L1071.33 1207.93 L1070.12 1208.87 L1068.91 1209.80 L1067.70 1210.72 L1066.48 1211.65 L1065.25 1212.57 L1064.02 1213.48 L1062.79 1214.39 L1061.55 1215.30 L1060.35 1216.18 L1059.16 1217.03 L1057.97 1217.89 L1056.77 1218.75 L1055.56 1219.60 L1054.36 1220.44 L1053.14 1221.29 L1051.92 1222.14 L1050.70 1222.98 L1049.47 1223.82 L1048.24 1224.65 L1047.01 1225.48 L1045.77 1226.31 L1044.52 1227.14 L1043.28 1227.96 L1042.03 1228.78 L1040.78 1229.60 L1039.52 1230.41 L1038.26 1231.22 L1037.00 1232.03 L1035.74 1232.83 L1034.46 1233.64 L1033.19 1234.44 L1031.92 1235.23 L1030.64 1236.03 L1029.36 1236.82 L1028.07 1237.61 L1026.78 1238.39 L1025.50 1239.18 L1024.21 1239.95 L1022.92 1240.73 L1021.63 1241.50 L1020.33 1242.27 L1019.03 1243.04 L1017.73 1243.81 L1016.43 1244.57 L1015.13 1245.33 L1013.82 1246.09 L1012.52 1246.84 L1011.21 1247.60 L1009.88 1248.36 L1008.51 1249.14 L1007.14 1249.92 L1005.74 1250.71 L1004.33 1251.51 L1002.92 1252.30 L1001.49 1253.10 L1000.05 1253.91 L998.60 1254.71 L997.15 1255.51 L995.70 1256.32 L994.24 1257.12 L992.78 1257.92 L991.32 1258.72 L989.86 1259.51 L988.41 1260.30 L986.97 1261.08 L985.54 1261.85 L984.12 1262.62 L982.73 1263.37 L981.36 1264.11 L980.00 1264.83 L978.67 1265.55 L977.36 1266.25 L976.07 1266.94 L974.80 1267.61 L973.53 1268.30 L972.25 1268.98 L970.99 1269.65 L969.75 1270.31 L968.55 1270.96 L967.37 1271.59 L966.21 1272.20 L965.09 1272.80 L963.99 1273.38 L962.92 1273.95 L961.88 1274.50 L960.86 1275.04 L959.68 1275.67 L958.16 1276.49 L956.69 1277.27 L955.28 1278.02 L953.90 1278.76 L952.55 1279.48 L951.24 1280.18 L949.93 1280.88 L948.64 1281.57 L947.36 1282.25 L946.08 1282.92 L944.80 1283.59 L943.52 1284.26 L942.22 1284.92 L940.91 1285.57 L939.56 1286.22 L938.21 1286.86 L936.84 1287.47 L935.44 1288.07 L934.01 1288.66 L932.56 1289.22 L931.10 1289.75 L929.65 1290.26 L928.19 1290.75 L926.73 1291.22 L925.27 1291.68 L923.81 1292.13 L922.34 1292.59 L920.89 1293.05 L919.44 1293.52 L918.00 1294.00 L918.00 1294.00" fill="none" stroke="#b6c432" stroke-width="3.5" stroke-linejoin="round" stroke-linecap="butt"/>
<path d="M920 1286.2 Q872 1301.8 828 1315.3 Q825 1318.5 829.5 1319.5 Q877 1308.8 921 1294.8 Z" fill="#b6c432"/>
<path d="M1064.00 1299.50 L1064.87 1298.30 L1065.71 1297.11 L1066.53 1295.96 L1067.40 1294.80 L1068.40 1293.57 L1069.50 1292.34 L1070.57 1291.25 L1071.47 1290.38 L1072.38 1289.53 L1073.34 1288.64 L1074.36 1287.67 L1075.46 1286.60 L1076.59 1285.44 L1077.74 1284.21 L1078.89 1282.92 L1080.02 1281.59 L1081.15 1280.20 L1082.09 1278.98 L1082.68 1278.19 L1083.28 1277.36 L1083.89 1276.50 L1084.52 1275.60 L1085.16 1274.65 L1085.81 1273.67 L1086.48 1272.64 L1087.17 1271.56 L1087.87 1270.45 L1088.59 1269.28 L1089.33 1268.07 L1090.08 1266.82 L1090.84 1265.52 L1091.62 1264.18 L1092.41 1262.81 L1093.22 1261.40 L1094.03 1260.00 L1094.85 1258.62 L1095.68 1257.20 L1096.53 1255.75 L1097.37 1254.27 L1098.22 1252.77 L1099.08 1251.24 L1099.94 1249.70 L1100.80 1248.14 L1101.65 1246.59 L1102.49 1245.04 L1103.32 1243.50 L1104.13 1241.97 L1104.94 1240.45 L1105.73 1238.94 L1106.50 1237.45 L1107.26 1236.00 L1108.00 1234.56 L1108.72 1233.15 L1109.42 1231.77 L1110.11 1230.41 L1110.77 1229.10 L1111.41 1227.81 L1112.04 1226.55 L1112.69 1225.24 L1113.42 1223.75 L1114.13 1222.29 L1114.83 1220.86 L1115.51 1219.45 L1116.18 1218.05 L1116.83 1216.67 L1117.47 1215.31 L1118.10 1213.96 L1118.72 1212.62 L1119.34 1211.28 L1119.94 1209.96 L1120.54 1208.63 L1121.13 1207.32 L1121.70 1206.01 L1122.28 1204.69 L1122.85 1203.37 L1123.41 1202.05 L1123.98 1200.73 L1124.53 1199.40 L1125.09 1198.06 L1125.64 1196.71 L1126.19 1195.35 L1126.73 1193.98 L1127.28 1192.60 L1127.83 1191.19 L1128.37 1189.77 L1128.90 1188.36 L1129.41 1187.00 L1129.92 1185.62 L1130.43 1184.24 L1130.93 1182.83 L1131.43 1181.42 L1131.93 1179.99 L1132.43 1178.55 L1132.93 1177.10 L1133.42 1175.65 L1133.91 1174.19 L1134.39 1172.73 L1134.88 1171.25 L1135.36 1169.78 L1135.83 1168.31 L1136.30 1166.84 L1136.77 1165.36 L1137.23 1163.89 L1137.69 1162.42 L1138.14 1160.96 L1138.59 1159.50 L1139.04 1158.05 L1139.48 1156.60 L1139.92 1155.17 L1140.35 1153.75 L1140.78 1152.33 L1141.20 1150.93 L1141.62 1149.54 L1142.03 1148.17 L1142.44 1146.80 L1142.84 1145.46 L1143.28 1144.00 L1143.73 1142.49 L1144.18 1140.99 L1144.62 1139.52 L1145.05 1138.06 L1145.48 1136.61 L1145.90 1135.19 L1146.32 1133.77 L1146.74 1132.35 L1147.15 1130.94 L1147.57 1129.53 L1147.98 1128.12 L1148.39 1126.72 L1148.80 1125.31 L1149.20 1123.91 L1149.61 1122.50 L1150.02 1121.07 L1150.43 1119.64 L1150.84 1118.20 L1151.25 1116.74 L1151.66 1115.27 L1152.08 1113.77 L1152.50 1112.26 L1152.92 1110.76 L1153.31 1109.32 L1153.71 1107.85 L1154.11 1106.35 L1154.52 1104.82 L1154.94 1103.28 L1155.35 1101.72 L1155.77 1100.13 L1156.18 1098.54 L1156.60 1096.94 L1157.01 1095.33 L1157.42 1093.73 L1157.82 1092.12 L1158.22 1090.51 L1158.62 1088.93 L1159.01 1087.35 L1159.39 1085.78 L1159.77 1084.24 L1160.13 1082.73 L1160.49 1081.24 L1160.83 1079.78 L1161.17 1078.35 L1161.50 1076.94 L1161.82 1075.58 L1162.13 1074.25 L1162.43 1072.98 L1162.71 1071.73 L1162.99 1070.54 L1163.34 1069.00 L1163.72 1067.32 L1164.09 1065.67 L1164.45 1064.09 L1164.79 1062.56 L1165.12 1061.08 L1165.44 1059.65 L1165.75 1058.27 L1166.04 1056.93 L1166.32 1055.66 L1166.59 1054.43 L1166.85 1053.26 L1167.18 1051.74 L1167.51 1050.22 L1167.81 1048.82 L1168.11 1047.45 L1168.42 1046.02 L1168.72 1044.61 L1169.00 1043.28 L1169.28 1041.95 L1169.57 1040.57 L1169.88 1039.11 L1170.21 1037.52 L1170.58 1035.79 L1170.82 1034.63 L1171.07 1033.41 L1171.33 1032.12 L1171.61 1030.77 L1171.90 1029.36 L1172.20 1027.91 L1172.51 1026.40 L1172.83 1024.87 L1173.15 1023.30 L1173.48 1021.70 L1173.81 1020.08 L1174.14 1018.45 L1174.48 1016.82 L1174.82 1015.19 L1175.15 1013.57 L1175.48 1011.96 L1175.81 1010.38 L1176.13 1008.83 L1176.44 1007.38 L1176.74 1005.94 L1177.03 1004.53 L1177.33 1003.13 L1177.62 1001.74 L1177.91 1000.36 L1178.20 998.98 L1178.49 997.59 L1178.78 996.21 L1179.07 994.81 L1179.37 993.39 L1179.67 991.97 L1179.97 990.52 L1180.28 989.04 L1180.59 987.53 L1180.90 985.99 L1181.22 984.41 L1181.55 982.79 L1181.89 981.11 L1182.19 979.59 L1182.41 978.45 L1182.64 977.28 L1182.87 976.08 L1183.10 974.86 L1183.34 973.60 L1183.58 972.34 L1183.82 971.04 L1184.06 969.72 L1184.31 968.39 L1184.55 967.03 L1184.80 965.64 L1185.05 964.23 L1185.30 962.80 L1185.55 961.36 L1185.80 959.89 L1186.05 958.39 L1186.31 956.88 L1186.56 955.35 L1186.82 953.79 L1187.08 952.23 L1187.33 950.64 L1187.59 949.04 L1187.85 947.43 L1188.11 945.81 L1188.37 944.18 L1188.62 942.55 L1188.88 940.90 L1189.14 939.27 L1189.39 937.62 L1189.65 935.98 L1189.90 934.35 L1190.15 932.72 L1190.40 931.10 L1190.65 929.49 L1190.90 927.89 L1191.14 926.30 L1191.38 924.72 L1191.62 923.17 L1191.86 921.61 L1192.09 920.08 L1192.33 918.55 L1192.56 917.03 L1192.78 915.54 L1193.01 914.07 L1193.23 912.60 L1193.45 911.17 L1193.69 909.64 L1193.93 908.06 L1194.17 906.47 L1194.41 904.89 L1194.65 903.30 L1194.90 901.69 L1195.14 900.09 L1195.39 898.49 L1195.63 896.89 L1195.88 895.28 L1196.12 893.69 L1196.37 892.09 L1196.61 890.50 L1196.85 888.90 L1197.10 887.32 L1197.34 885.74 L1197.58 884.18 L1197.81 882.62 L1198.05 881.08 L1198.28 879.55 L1198.52 878.03 L1198.75 876.54 L1198.97 875.05 L1199.20 873.58 L1199.42 872.12 L1199.65 870.69 L1199.87 869.26 L1200.08 867.85 L1200.30 866.45 L1200.52 865.05 L1200.74 863.65 L1200.95 862.30 L1201.16 860.95 L1201.37 859.62 L1201.59 858.30 L1201.80 857.00 L1202.01 855.71 L1202.21 854.44 L1202.43 853.06 L1202.69 851.40 L1202.94 849.75 L1203.20 848.11 L1203.46 846.47 L1203.71 844.84 L1203.97 843.21 L1204.23 841.59 L1204.48 839.99 L1204.74 838.40 L1204.99 836.85 L1205.23 835.33 L1205.48 833.85 L1205.71 832.43 L1205.95 831.06 L1206.18 829.73 L1206.41 828.45 L1206.64 827.21 L1206.87 825.99 L1207.12 824.78 L1207.36 823.58 L1207.63 822.38 L1208.05 820.54 L1208.58 818.43 L1209.19 816.11 L1209.82 813.87 L1210.38 811.98 L1210.91 810.33 L1211.41 808.93 L1211.87 807.79 L1212.29 806.98 L1212.65 806.50 L1213.11 806.47 L1213.61 807.32 L1214.07 809.06 L1214.42 811.50 L1214.48 812.32 L1214.50 813.22 L1214.51 814.22 L1214.49 815.34 L1214.44 816.58 L1214.37 817.94 L1214.28 819.41 L1214.16 820.99 L1214.02 822.69 L1213.86 824.47 L1213.68 826.33 L1213.47 828.22 L1213.26 830.12 L1213.04 832.00 L1212.80 833.84 L1212.56 835.65 L1212.32 837.39 L1212.08 839.06 L1211.85 840.64 L1211.64 842.13 L1211.43 843.49 L1211.18 845.20 L1210.95 846.76 L1210.74 848.21 L1210.54 849.58 L1210.34 850.90 L1210.16 852.21 L1209.97 853.53 L1209.78 854.89 L1209.58 856.33 L1209.37 857.88 L1209.14 859.56 L1208.97 860.86 L1208.83 861.93 L1208.68 863.04 L1208.52 864.19 L1208.36 865.38 L1208.20 866.59 L1208.04 867.82 L1207.87 869.08 L1207.70 870.37 L1207.52 871.71 L1207.35 873.07 L1207.17 874.46 L1206.99 875.88 L1206.81 877.32 L1206.62 878.80 L1206.43 880.31 L1206.25 881.84 L1206.06 883.40 L1205.87 884.98 L1205.67 886.59 L1205.48 888.21 L1205.29 889.86 L1205.09 891.52 L1204.90 893.20 L1204.70 894.88 L1204.51 896.57 L1204.31 898.27 L1204.12 899.96 L1203.93 901.65 L1203.74 903.33 L1203.54 905.01 L1203.36 906.68 L1203.17 908.34 L1202.98 909.99 L1202.81 911.48 L1202.65 912.92 L1202.49 914.37 L1202.32 915.86 L1202.15 917.37 L1201.97 918.91 L1201.80 920.48 L1201.62 922.05 L1201.44 923.66 L1201.25 925.28 L1201.07 926.92 L1200.88 928.58 L1200.69 930.26 L1200.50 931.95 L1200.30 933.66 L1200.10 935.38 L1199.91 937.11 L1199.71 938.84 L1199.51 940.59 L1199.30 942.32 L1199.10 944.06 L1198.90 945.80 L1198.70 947.51 L1198.50 949.22 L1198.30 950.90 L1198.10 952.57 L1197.90 954.21 L1197.70 955.83 L1197.51 957.42 L1197.32 958.97 L1197.13 960.51 L1196.94 962.00 L1196.76 963.47 L1196.57 964.90 L1196.40 966.30 L1196.22 967.66 L1196.04 969.00 L1195.87 970.30 L1195.70 971.56 L1195.54 972.78 L1195.38 973.98 L1195.22 975.13 L1195.07 976.25 L1194.92 977.33 L1194.77 978.38 L1194.63 979.39 L1194.45 980.64 L1194.20 982.36 L1193.97 983.96 L1193.75 985.46 L1193.55 986.87 L1193.34 988.22 L1193.15 989.54 L1192.95 990.84 L1192.75 992.14 L1192.55 993.48 L1192.33 994.87 L1192.10 996.34 L1191.86 997.92 L1191.63 999.36 L1191.40 1000.76 L1191.16 1002.23 L1190.91 1003.76 L1190.66 1005.33 L1190.39 1006.94 L1190.11 1008.58 L1189.83 1010.23 L1189.54 1011.89 L1189.25 1013.56 L1188.95 1015.21 L1188.66 1016.85 L1188.37 1018.46 L1188.08 1020.03 L1187.79 1021.55 L1187.51 1023.03 L1187.24 1024.46 L1186.99 1025.81 L1186.74 1027.10 L1186.51 1028.30 L1186.20 1029.86 L1185.87 1031.55 L1185.56 1033.16 L1185.26 1034.67 L1184.98 1036.12 L1184.71 1037.49 L1184.45 1038.79 L1184.21 1040.02 L1183.93 1041.45 L1183.66 1042.82 L1183.40 1044.14 L1183.12 1045.56 L1182.83 1047.02 L1182.59 1048.23 L1182.34 1049.51 L1182.07 1050.85 L1181.80 1052.24 L1181.51 1053.70 L1181.20 1055.23 L1180.88 1056.82 L1180.54 1058.50 L1180.23 1060.04 L1179.98 1061.24 L1179.72 1062.48 L1179.45 1063.78 L1179.17 1065.12 L1178.87 1066.51 L1178.56 1067.93 L1178.24 1069.39 L1177.91 1070.89 L1177.57 1072.40 L1177.21 1073.95 L1176.85 1075.52 L1176.48 1077.09 L1176.10 1078.68 L1175.71 1080.29 L1175.32 1081.89 L1174.92 1083.48 L1174.52 1085.08 L1174.11 1086.66 L1173.71 1088.22 L1173.30 1089.77 L1172.91 1091.26 L1172.53 1092.69 L1172.15 1094.12 L1171.76 1095.53 L1171.38 1096.93 L1170.99 1098.34 L1170.61 1099.73 L1170.22 1101.13 L1169.83 1102.53 L1169.43 1103.92 L1169.04 1105.33 L1168.64 1106.74 L1168.23 1108.16 L1167.83 1109.58 L1167.41 1111.02 L1167.00 1112.47 L1166.58 1113.94 L1166.15 1115.42 L1165.72 1116.92 L1165.28 1118.44 L1164.84 1119.99 L1164.39 1121.56 L1163.93 1123.16 L1163.47 1124.77 L1163.12 1126.01 L1162.76 1127.26 L1162.40 1128.53 L1162.04 1129.81 L1161.67 1131.11 L1161.30 1132.41 L1160.92 1133.74 L1160.54 1135.09 L1160.16 1136.45 L1159.78 1137.81 L1159.39 1139.20 L1158.99 1140.59 L1158.60 1142.00 L1158.20 1143.43 L1157.79 1144.87 L1157.38 1146.32 L1156.97 1147.78 L1156.55 1149.26 L1156.12 1150.74 L1155.70 1152.24 L1155.26 1153.75 L1154.83 1155.26 L1154.39 1156.78 L1153.94 1158.30 L1153.49 1159.84 L1153.04 1161.37 L1152.58 1162.90 L1152.12 1164.45 L1151.66 1165.98 L1151.19 1167.52 L1150.72 1169.05 L1150.24 1170.57 L1149.76 1172.09 L1149.29 1173.60 L1148.80 1175.11 L1148.32 1176.61 L1147.83 1178.10 L1147.34 1179.57 L1146.85 1181.04 L1146.36 1182.50 L1145.87 1183.95 L1145.38 1185.37 L1144.89 1186.78 L1144.39 1188.20 L1143.89 1189.63 L1143.38 1191.05 L1142.86 1192.48 L1142.34 1193.90 L1141.81 1195.33 L1141.27 1196.77 L1140.73 1198.21 L1140.18 1199.65 L1139.63 1201.08 L1139.07 1202.52 L1138.51 1203.95 L1137.94 1205.39 L1137.36 1206.82 L1136.78 1208.25 L1136.20 1209.67 L1135.61 1211.09 L1135.02 1212.51 L1134.42 1213.91 L1133.81 1215.31 L1133.21 1216.71 L1132.60 1218.09 L1131.98 1219.47 L1131.37 1220.82 L1130.75 1222.18 L1130.12 1223.52 L1129.49 1224.86 L1128.85 1226.19 L1128.21 1227.50 L1127.57 1228.81 L1126.91 1230.11 L1126.26 1231.39 L1125.60 1232.67 L1124.94 1233.93 L1124.27 1235.19 L1123.59 1236.43 L1122.91 1237.66 L1122.22 1238.89 L1121.53 1240.12 L1120.83 1241.33 L1120.12 1242.54 L1119.29 1243.93 L1118.44 1245.34 L1117.57 1246.76 L1116.67 1248.19 L1115.76 1249.62 L1114.84 1251.05 L1113.90 1252.47 L1112.94 1253.91 L1111.98 1255.32 L1111.01 1256.74 L1110.04 1258.14 L1109.06 1259.52 L1108.08 1260.89 L1107.11 1262.22 L1106.16 1263.52 L1105.21 1264.80 L1104.28 1266.04 L1103.36 1267.26 L1102.46 1268.43 L1101.55 1269.66 L1100.65 1270.86 L1099.76 1272.02 L1098.89 1273.15 L1098.05 1274.24 L1097.22 1275.29 L1096.41 1276.30 L1095.61 1277.29 L1094.85 1278.23 L1094.10 1279.14 L1093.37 1280.01 L1092.66 1280.86 L1091.98 1281.68 L1090.85 1283.01 L1089.77 1284.26 L1088.74 1285.46 L1087.72 1286.62 L1086.74 1287.73 L1085.76 1288.83 L1084.79 1289.90 L1083.83 1290.95 L1082.86 1291.98 L1081.88 1293.02 L1080.86 1294.06 L1079.77 1295.16 L1078.65 1296.26 L1077.48 1297.37 L1076.31 1298.47 L1075.16 1299.53 L1074.00 1300.56 L1072.85 1301.59 L1071.69 1302.60 L1070.53 1303.63 L1069.38 1304.66 L1069.00 1305.00" fill="none" stroke="#b6c432" stroke-width="3.5" stroke-linejoin="round" stroke-linecap="butt"/>
<path d="M1066 1297 Q1046 1310.5 1027.5 1323.5 Q1027 1327.5 1029.8 1328.2 Q1050 1320 1070 1305.5 Z" fill="#b6c432"/>
<line x1="1184.9" y1="820.7" x2="1173.5" y2="885" stroke="#b6c432" stroke-width="3.5"/>
<path d="M1172.0 899.0 L1166.6 873.1 L1175.5 878.0 L1185.3 877.3 Z" fill="#b6c432"/>
<line x1="1261.6" y1="818" x2="1237" y2="877" stroke="#b6c432" stroke-width="3.5"/>
<path d="M1230.8 890.5 L1232.1 864.2 L1238.5 871.0 L1249.0 871.9 Z" fill="#b6c432"/>
<circle cx="1168.9" cy="1045.5" r="6.6" fill="#fff" stroke="#b6c432" stroke-width="2.5"/>
<circle cx="1180.8" cy="1037.6" r="6.6" fill="#fff" stroke="#b6c432" stroke-width="2.5"/>
<circle cx="926.3" cy="1289.5" r="8" fill="#b6c432"/>
<circle cx="1074.3" cy="1299.3" r="7.8" fill="#b6c432"/>
<text x="285" y="776.2" class="ncvf" fill="#3083f9" stroke="#3083f9" stroke-width="0.9" textLength="92" lengthAdjust="spacingAndGlyphs">NCVF</text>
<text x="385.5" y="776.2" class="eq2" fill="#3083f9">=</text>
<text x="416" y="776.6" class="zero" fill="#3083f9" stroke="#3083f9" stroke-width="0.8">0</text>
<text x="938.5" y="776.4" class="ncvf" fill="#b6c432" stroke="#b6c432" stroke-width="0.9" textLength="92" lengthAdjust="spacingAndGlyphs">NCVF</text>
<text x="1040" y="776.4" class="eq2" fill="#b6c432">=</text>
<text x="1073" y="776.4" class="one" fill="#b6c432">1</text>
<text x="768.0" y="730.8" class="kk" fill="#b6c432" stroke="#b6c432" stroke-width="0.9">k</text>
<text x="787.5" y="738.7" class="sub" fill="#b6c432" stroke="#b6c432" stroke-width="0.6" textLength="48" lengthAdjust="spacingAndGlyphs">ECM</text>
<line x1="848.7" y1="711.6" x2="848.7" y2="735.5" stroke="#b6c432" stroke-width="2.6"/>
<path d="M848.7 701.6 L842.1 718.6 L855.3 718.6 Z" fill="#b6c432"/>
<line x1="867.0" y1="711.6" x2="867.0" y2="735.5" stroke="#b6c432" stroke-width="2.6"/>
<path d="M867.0 701.6 L860.4 718.6 L873.6 718.6 Z" fill="#b6c432"/>
<text x="765.0" y="773.6" class="kk" fill="#b6c432" stroke="#b6c432" stroke-width="0.9">L</text>
<text x="785.5" y="781.6" class="sub" fill="#b6c432" stroke="#b6c432" stroke-width="0.6" textLength="69" lengthAdjust="spacingAndGlyphs">s0,pas</text>
<line x1="867.5" y1="758.7" x2="867.5" y2="782.6" stroke="#b6c432" stroke-width="2.6"/>
<path d="M867.5 748.7 L860.9 765.7 L874.1 765.7 Z" fill="#b6c432"/>
<text x="1135.5" y="734.5" class="kk" fill="#b6c432" stroke="#b6c432" stroke-width="0.9">k</text>
<text x="1155.0" y="742.4" class="sub" fill="#b6c432" stroke="#b6c432" stroke-width="0.6" textLength="48" lengthAdjust="spacingAndGlyphs">ECM</text>
<line x1="1217.7" y1="716.8" x2="1217.7" y2="740.6" stroke="#b6c432" stroke-width="2.6"/>
<path d="M1217.7 706.8 L1211.1 723.8 L1224.3 723.8 Z" fill="#b6c432"/>
<text x="1134.0" y="774.0" class="kk" fill="#b6c432" stroke="#b6c432" stroke-width="0.9">L</text>
<text x="1154.5" y="782.0" class="sub" fill="#b6c432" stroke="#b6c432" stroke-width="0.6" textLength="69" lengthAdjust="spacingAndGlyphs">s0,pas</text>
<line x1="1236.2" y1="758.8" x2="1236.2" y2="782.6" stroke="#b6c432" stroke-width="2.6"/>
<path d="M1236.2 748.8 L1229.6 765.8 L1242.8 765.8 Z" fill="#b6c432"/>
<line x1="1253.5" y1="758.8" x2="1253.5" y2="782.6" stroke="#b6c432" stroke-width="2.6"/>
<path d="M1253.5 748.8 L1246.9 765.8 L1260.1 765.8 Z" fill="#b6c432"/>
</svg></body></html>
